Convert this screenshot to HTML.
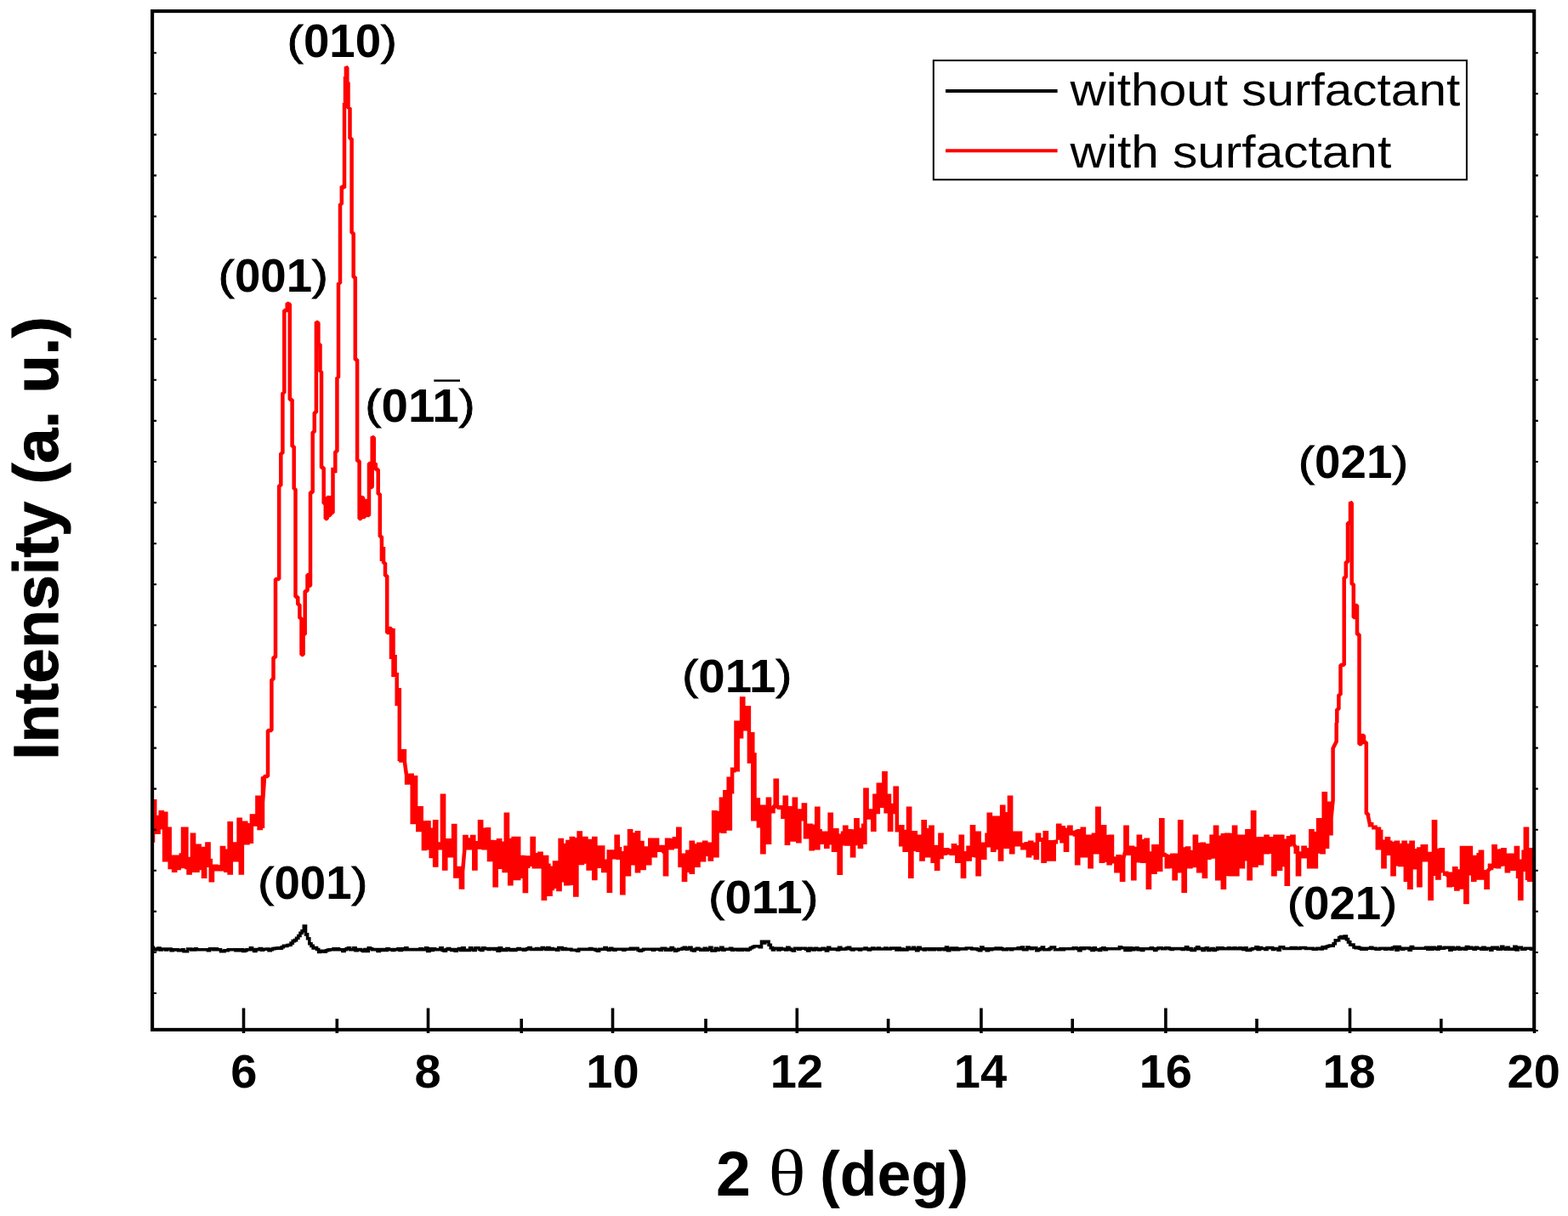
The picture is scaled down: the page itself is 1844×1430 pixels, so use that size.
<!DOCTYPE html>
<html lang="en">
<head>
<meta charset="utf-8">
<title>XRD patterns with and without surfactant</title>
<style>
html,body{margin:0;padding:0;background:#fff;}
body{width:1844px;height:1430px;overflow:hidden;}
svg{display:block;filter:blur(0.55px);}
text{fill:#000;}
</style>
</head>
<body>
<svg width="1844" height="1430" viewBox="0 0 1844 1430">
<rect width="1844" height="1430" fill="#fff"/>
<path d="M180.2 1112.8 L181.5 1116.9 L183.7 1116.9 L183.7 1116 L185.9 1116 L185.9 1115.1 L188 1115.1 L188 1116.9 L190.2 1116.9 L190.2 1116 L192.4 1116 L192.4 1116 L194.5 1116 L194.5 1116.9 L196.7 1116.9 L196.7 1116 L198.9 1116 L198.9 1116 L201.1 1116 L201.1 1117.8 L203.2 1117.8 L203.2 1116.9 L205.4 1116.9 L205.4 1116.9 L207.6 1116.9 L207.6 1116.9 L209.7 1116.9 L209.7 1117.8 L211.9 1117.8 L211.9 1117.8 L214.1 1117.8 L214.1 1116.9 L216.2 1116.9 L216.2 1118.7 L218.4 1118.7 L218.4 1118.7 L220.6 1118.7 L220.6 1116 L222.8 1116 L222.8 1116 L224.9 1116 L224.9 1116.9 L227.1 1116.9 L227.1 1116.9 L229.3 1116.9 L229.3 1115.9 L231.4 1115.9 L231.4 1116.8 L233.6 1116.8 L233.6 1116.8 L235.8 1116.8 L235.8 1116.8 L237.9 1116.8 L237.9 1116.8 L240.1 1116.8 L240.1 1116.8 L242.3 1116.8 L242.3 1116.8 L244.5 1116.8 L244.5 1117.7 L246.6 1117.7 L246.6 1115.9 L248.8 1115.9 L248.8 1115.9 L251 1115.9 L251 1116.8 L253.1 1116.8 L253.1 1115.9 L255.3 1115.9 L255.3 1116.8 L257.5 1116.8 L257.5 1116.8 L259.6 1116.8 L259.6 1118.6 L261.8 1118.6 L261.8 1118.6 L264 1118.6 L264 1117.7 L266.2 1117.7 L266.2 1117.7 L268.3 1117.7 L268.3 1116.8 L270.5 1116.8 L270.5 1116.8 L272.7 1116.8 L272.7 1116.8 L274.8 1116.8 L274.8 1116.8 L277 1116.8 L277 1117.7 L279.2 1117.7 L279.2 1116.8 L281.3 1116.8 L281.3 1117.7 L283.5 1117.7 L283.5 1116.7 L285.7 1116.7 L285.7 1118.5 L287.9 1118.5 L287.9 1117.6 L290 1117.6 L290 1116.7 L292.2 1116.7 L292.2 1116.7 L294.4 1116.7 L294.4 1114.9 L296.5 1114.9 L296.5 1116.6 L298.7 1116.6 L298.7 1118.4 L300.9 1118.4 L300.9 1116.6 L303 1116.6 L303 1116.5 L305.2 1116.5 L305.2 1115.6 L307.4 1115.6 L307.4 1117.3 L309.6 1117.3 L309.6 1116.3 L311.7 1116.3 L311.7 1116.2 L313.9 1116.2 L313.9 1116.1 L316.1 1116.1 L316.1 1117.8 L318.2 1117.8 L318.2 1116.7 L320.4 1116.7 L320.4 1115.6 L322.6 1115.6 L322.6 1115.4 L324.8 1115.4 L324.8 1115.1 L326.9 1115.1 L326.9 1114.7 L329.1 1114.7 L329.1 1115.2 L331.3 1115.2 L331.3 1113.8 L333.4 1113.8 L333.4 1112.3 L335.6 1112.3 L335.6 1112.4 L337.8 1112.4 L337.8 1111.5 L339.9 1111.5 L339.9 1111.3 L342.1 1111.3 L342.1 1109.1 L344.3 1109.1 L344.3 1106.6 L346.5 1106.6 L346.5 1105.6 L348.6 1105.6 L348.6 1103.3 L350.8 1103.3 L350.8 1100.5 L353 1100.5 L353 1097.2 L355.1 1097.2 L355.1 1094.9 L357.3 1094.9 L357.3 1089.1 L359.5 1089.1 L359.5 1098.9 L361.6 1098.9 L361.6 1103.8 L363.8 1103.8 L363.8 1109.8 L366 1109.8 L366 1112.4 L368.2 1112.4 L368.2 1115 L370.3 1115 L370.3 1114.5 L372.5 1114.5 L372.5 1116.5 L374.7 1116.5 L374.7 1119.4 L376.8 1119.4 L376.8 1118.4 L379 1118.4 L379 1118.6 L381.2 1118.6 L381.2 1119.2 L383.3 1119.2 L383.3 1117.7 L385.5 1117.7 L385.5 1117.1 L387.7 1117.1 L387.7 1116.8 L389.9 1116.8 L389.9 1116.7 L392 1116.7 L392 1115.8 L394.2 1115.8 L394.2 1116.7 L396.4 1116.7 L396.4 1115.8 L398.5 1115.8 L398.5 1116.7 L400.7 1116.7 L400.7 1116.7 L402.9 1116.7 L402.9 1118.5 L405 1118.5 L405 1116.7 L407.2 1116.7 L407.2 1115.8 L409.4 1115.8 L409.4 1114.9 L411.6 1114.9 L411.6 1116.7 L413.7 1116.7 L413.7 1116.7 L415.9 1116.7 L415.9 1114.9 L418.1 1114.9 L418.1 1117.6 L420.2 1117.6 L420.2 1116.6 L422.4 1116.6 L422.4 1116.6 L424.6 1116.6 L424.6 1117.5 L426.7 1117.5 L426.7 1118.4 L428.9 1118.4 L428.9 1116.6 L431.1 1116.6 L431.1 1118.4 L433.3 1118.4 L433.3 1114.8 L435.4 1114.8 L435.4 1115.7 L437.6 1115.7 L437.6 1116.6 L439.8 1116.6 L439.8 1116.6 L441.9 1116.6 L441.9 1116.6 L444.1 1116.6 L444.1 1118.4 L446.3 1118.4 L446.3 1116.6 L448.4 1116.6 L448.4 1117.5 L450.6 1117.5 L450.6 1116.6 L452.8 1116.6 L452.8 1117.5 L455 1117.5 L455 1115.7 L457.1 1115.7 L457.1 1116.6 L459.3 1116.6 L459.3 1116.6 L461.5 1116.6 L461.5 1117.5 L463.6 1117.5 L463.6 1116.6 L465.8 1116.6 L465.8 1116.6 L468 1116.6 L468 1115.7 L470.1 1115.7 L470.1 1117.5 L472.3 1117.5 L472.3 1115.7 L474.5 1115.7 L474.5 1116.6 L476.7 1116.6 L476.7 1114.8 L478.8 1114.8 L478.8 1116.6 L481 1116.6 L481 1116.6 L483.2 1116.6 L483.2 1116.6 L485.3 1116.6 L485.3 1116.6 L487.5 1116.6 L487.5 1116.6 L489.7 1116.6 L489.7 1116.6 L491.8 1116.6 L491.8 1116.6 L494 1116.6 L494 1115.7 L496.2 1115.7 L496.2 1116.6 L498.4 1116.6 L498.4 1116.6 L500.5 1116.6 L500.5 1114.8 L502.7 1114.8 L502.7 1118.4 L504.9 1118.4 L504.9 1115.7 L507 1115.7 L507 1117.5 L509.2 1117.5 L509.2 1115.7 L511.4 1115.7 L511.4 1116.6 L513.5 1116.6 L513.5 1116.6 L515.7 1116.6 L515.7 1116.5 L517.9 1116.5 L517.9 1114.7 L520.1 1114.7 L520.1 1117.4 L522.2 1117.4 L522.2 1118.3 L524.4 1118.3 L524.4 1116.5 L526.6 1116.5 L526.6 1115.6 L528.7 1115.6 L528.7 1116.5 L530.9 1116.5 L530.9 1117.4 L533.1 1117.4 L533.1 1116.5 L535.2 1116.5 L535.2 1118.3 L537.4 1118.3 L537.4 1116.5 L539.6 1116.5 L539.6 1115.6 L541.8 1115.6 L541.8 1117.4 L543.9 1117.4 L543.9 1114.7 L546.1 1114.7 L546.1 1117.4 L548.3 1117.4 L548.3 1117.4 L550.4 1117.4 L550.4 1117.4 L552.6 1117.4 L552.6 1114.7 L554.8 1114.7 L554.8 1116.5 L556.9 1116.5 L556.9 1117.4 L559.1 1117.4 L559.1 1114.7 L561.3 1114.7 L561.3 1114.7 L563.5 1114.7 L563.5 1116.5 L565.6 1116.5 L565.6 1117.4 L567.8 1117.4 L567.8 1114.7 L570 1114.7 L570 1115.6 L572.1 1115.6 L572.1 1115.6 L574.3 1115.6 L574.3 1116.5 L576.5 1116.5 L576.5 1115.6 L578.6 1115.6 L578.6 1115.6 L580.8 1115.6 L580.8 1116.5 L583 1116.5 L583 1115.6 L585.2 1115.6 L585.2 1118.3 L587.3 1118.3 L587.3 1114.7 L589.5 1114.7 L589.5 1117.4 L591.7 1117.4 L591.7 1116.5 L593.8 1116.5 L593.8 1117.4 L596 1117.4 L596 1115.6 L598.2 1115.6 L598.2 1116.5 L600.3 1116.5 L600.3 1117.4 L602.5 1117.4 L602.5 1116.5 L604.7 1116.5 L604.7 1117.4 L606.8 1117.4 L606.8 1116.5 L609 1116.5 L609 1115.6 L611.2 1115.6 L611.2 1116.4 L613.4 1116.4 L613.4 1116.4 L615.5 1116.4 L615.5 1117.3 L617.7 1117.3 L617.7 1116.4 L619.9 1116.4 L619.9 1115.5 L622 1115.5 L622 1114.6 L624.2 1114.6 L624.2 1116.4 L626.4 1116.4 L626.4 1116.4 L628.5 1116.4 L628.5 1116.4 L630.7 1116.4 L630.7 1115.5 L632.9 1115.5 L632.9 1116.4 L635.1 1116.4 L635.1 1116.4 L637.2 1116.4 L637.2 1114.6 L639.4 1114.6 L639.4 1115.5 L641.6 1115.5 L641.6 1116.4 L643.7 1116.4 L643.7 1114.6 L645.9 1114.6 L645.9 1116.4 L648.1 1116.4 L648.1 1115.5 L650.2 1115.5 L650.2 1116.4 L652.4 1116.4 L652.4 1116.4 L654.6 1116.4 L654.6 1117.3 L656.8 1117.3 L656.8 1114.6 L658.9 1114.6 L658.9 1114.6 L661.1 1114.6 L661.1 1116.4 L663.3 1116.4 L663.3 1115.5 L665.4 1115.5 L665.4 1116.4 L667.6 1116.4 L667.6 1116.4 L669.8 1116.4 L669.8 1116.4 L671.9 1116.4 L671.9 1117.3 L674.1 1117.3 L674.1 1117.3 L676.3 1117.3 L676.3 1117.3 L678.5 1117.3 L678.5 1118.2 L680.6 1118.2 L680.6 1116.4 L682.8 1116.4 L682.8 1116.4 L685 1116.4 L685 1116.4 L687.1 1116.4 L687.1 1116.4 L689.3 1116.4 L689.3 1116.4 L691.5 1116.4 L691.5 1116.4 L693.6 1116.4 L693.6 1115.5 L695.8 1115.5 L695.8 1116.4 L698 1116.4 L698 1116.4 L700.2 1116.4 L700.2 1117.3 L702.3 1117.3 L702.3 1118.2 L704.5 1118.2 L704.5 1116.4 L706.7 1116.4 L706.7 1116.3 L708.8 1116.3 L708.8 1116.3 L711 1116.3 L711 1114.5 L713.2 1114.5 L713.2 1116.3 L715.3 1116.3 L715.3 1117.2 L717.5 1117.2 L717.5 1115.4 L719.7 1115.4 L719.7 1116.3 L721.9 1116.3 L721.9 1117.2 L724 1117.2 L724 1116.3 L726.2 1116.3 L726.2 1116.3 L728.4 1116.3 L728.4 1116.3 L730.5 1116.3 L730.5 1116.3 L732.7 1116.3 L732.7 1117.2 L734.9 1117.2 L734.9 1116.3 L737 1116.3 L737 1116.3 L739.2 1116.3 L739.2 1116.3 L741.4 1116.3 L741.4 1115.4 L743.6 1115.4 L743.6 1116.3 L745.7 1116.3 L745.7 1115.4 L747.9 1115.4 L747.9 1115.4 L750.1 1115.4 L750.1 1117.2 L752.2 1117.2 L752.2 1118.1 L754.4 1118.1 L754.4 1117.2 L756.6 1117.2 L756.6 1116.3 L758.7 1116.3 L758.7 1116.3 L760.9 1116.3 L760.9 1116.3 L763.1 1116.3 L763.1 1116.3 L765.3 1116.3 L765.3 1116.3 L767.4 1116.3 L767.4 1117.2 L769.6 1117.2 L769.6 1116.3 L771.8 1116.3 L771.8 1116.3 L773.9 1116.3 L773.9 1116.3 L776.1 1116.3 L776.1 1117.2 L778.3 1117.2 L778.3 1115.4 L780.4 1115.4 L780.4 1115.4 L782.6 1115.4 L782.6 1117.2 L784.8 1117.2 L784.8 1116.3 L787 1116.3 L787 1117.2 L789.1 1117.2 L789.1 1114.5 L791.3 1114.5 L791.3 1116.3 L793.5 1116.3 L793.5 1118.1 L795.6 1118.1 L795.6 1117.2 L797.8 1117.2 L797.8 1116.3 L800 1116.3 L800 1116.3 L802.1 1116.3 L802.1 1115.3 L804.3 1115.3 L804.3 1114.4 L806.5 1114.4 L806.5 1116.2 L808.7 1116.2 L808.7 1115.3 L810.8 1115.3 L810.8 1114.4 L813 1114.4 L813 1117.1 L815.2 1117.1 L815.2 1118 L817.3 1118 L817.3 1116.2 L819.5 1116.2 L819.5 1115.3 L821.7 1115.3 L821.7 1116.2 L823.8 1116.2 L823.8 1117.1 L826 1117.1 L826 1117.1 L828.2 1117.1 L828.2 1115.3 L830.4 1115.3 L830.4 1117.1 L832.5 1117.1 L832.5 1116.2 L834.7 1116.2 L834.7 1114.4 L836.9 1114.4 L836.9 1118 L839 1118 L839 1118 L841.2 1118 L841.2 1115.3 L843.4 1115.3 L843.4 1117.1 L845.5 1117.1 L845.5 1116.2 L847.7 1116.2 L847.7 1114.4 L849.9 1114.4 L849.9 1117.1 L852.1 1117.1 L852.1 1116.2 L854.2 1116.2 L854.2 1116.2 L856.4 1116.2 L856.4 1116.2 L858.6 1116.2 L858.6 1115.3 L860.7 1115.3 L860.7 1117.1 L862.9 1117.1 L862.9 1116.2 L865.1 1116.2 L865.1 1116.2 L867.2 1116.2 L867.2 1117.1 L869.4 1117.1 L869.4 1116.2 L871.6 1116.2 L871.6 1117.1 L873.8 1117.1 L873.8 1116.2 L875.9 1116.2 L875.9 1116.2 L878.1 1116.2 L878.1 1117.1 L880.3 1117.1 L880.3 1116.2 L882.4 1116.2 L882.4 1114.7 L884.6 1114.7 L884.6 1113.8 L886.8 1113.8 L886.8 1112.8 L888.9 1112.8 L888.9 1112.8 L891.1 1112.8 L891.1 1112.8 L893.3 1112.8 L893.3 1113.7 L895.5 1113.7 L895.5 1107.3 L897.6 1107.3 L897.6 1109 L899.8 1109 L899.8 1107.2 L902 1107.2 L902 1107.2 L904.1 1107.2 L904.1 1111.2 L906.3 1111.2 L906.3 1114.6 L908.5 1114.6 L908.5 1117 L910.6 1117 L910.6 1115.2 L912.8 1115.2 L912.8 1115.2 L915 1115.2 L915 1117 L917.2 1117 L917.2 1115.2 L919.3 1115.2 L919.3 1116.1 L921.5 1116.1 L921.5 1116.1 L923.7 1116.1 L923.7 1117 L925.8 1117 L925.8 1114.3 L928 1114.3 L928 1116.1 L930.2 1116.1 L930.2 1117 L932.3 1117 L932.3 1117.9 L934.5 1117.9 L934.5 1115.2 L936.7 1115.2 L936.7 1115.2 L938.9 1115.2 L938.9 1116.1 L941 1116.1 L941 1115.2 L943.2 1115.2 L943.2 1115.2 L945.4 1115.2 L945.4 1115.2 L947.5 1115.2 L947.5 1116.1 L949.7 1116.1 L949.7 1117.9 L951.9 1117.9 L951.9 1115.2 L954 1115.2 L954 1116.1 L956.2 1116.1 L956.2 1117 L958.4 1117 L958.4 1115.2 L960.6 1115.2 L960.6 1116.1 L962.7 1116.1 L962.7 1117 L964.9 1117 L964.9 1116.1 L967.1 1116.1 L967.1 1115.2 L969.2 1115.2 L969.2 1116.1 L971.4 1116.1 L971.4 1117.9 L973.6 1117.9 L973.6 1114.3 L975.7 1114.3 L975.7 1116.1 L977.9 1116.1 L977.9 1116.1 L980.1 1116.1 L980.1 1116.1 L982.3 1116.1 L982.3 1116.1 L984.4 1116.1 L984.4 1117 L986.6 1117 L986.6 1114.3 L988.8 1114.3 L988.8 1116.1 L990.9 1116.1 L990.9 1116.1 L993.1 1116.1 L993.1 1116 L995.3 1116 L995.3 1115.1 L997.4 1115.1 L997.4 1114.2 L999.6 1114.2 L999.6 1116 L1001.8 1116 L1001.8 1116.9 L1004 1116.9 L1004 1116 L1006.1 1116 L1006.1 1116 L1008.3 1116 L1008.3 1116 L1010.5 1116 L1010.5 1116.9 L1012.6 1116.9 L1012.6 1116 L1014.8 1116 L1014.8 1116 L1017 1116 L1017 1115.1 L1019.1 1115.1 L1019.1 1116 L1021.3 1116 L1021.3 1116.9 L1023.5 1116.9 L1023.5 1116 L1025.7 1116 L1025.7 1115.1 L1027.8 1115.1 L1027.8 1116 L1030 1116 L1030 1116 L1032.2 1116 L1032.2 1115.1 L1034.3 1115.1 L1034.3 1116 L1036.5 1116 L1036.5 1116 L1038.7 1116 L1038.7 1116 L1040.8 1116 L1040.8 1115.1 L1043 1115.1 L1043 1116 L1045.2 1116 L1045.2 1116 L1047.4 1116 L1047.4 1115.1 L1049.5 1115.1 L1049.5 1115.1 L1051.7 1115.1 L1051.7 1115.1 L1053.9 1115.1 L1053.9 1116.9 L1056 1116.9 L1056 1115.1 L1058.2 1115.1 L1058.2 1116.9 L1060.4 1116.9 L1060.4 1116 L1062.5 1116 L1062.5 1116.9 L1064.7 1116.9 L1064.7 1116.9 L1066.9 1116.9 L1066.9 1114.2 L1069.1 1114.2 L1069.1 1116 L1071.2 1116 L1071.2 1116 L1073.4 1116 L1073.4 1114.2 L1075.6 1114.2 L1075.6 1116 L1077.7 1116 L1077.7 1117.8 L1079.9 1117.8 L1079.9 1114.2 L1082.1 1114.2 L1082.1 1116 L1084.2 1116 L1084.2 1116 L1086.4 1116 L1086.4 1116.9 L1088.6 1116.9 L1088.6 1115.9 L1090.8 1115.9 L1090.8 1115.9 L1092.9 1115.9 L1092.9 1116.8 L1095.1 1116.8 L1095.1 1115.9 L1097.3 1115.9 L1097.3 1116.8 L1099.4 1116.8 L1099.4 1115.9 L1101.6 1115.9 L1101.6 1115.9 L1103.8 1115.9 L1103.8 1116.8 L1105.9 1116.8 L1105.9 1115.9 L1108.1 1115.9 L1108.1 1115.9 L1110.3 1115.9 L1110.3 1116.8 L1112.5 1116.8 L1112.5 1114.1 L1114.6 1114.1 L1114.6 1117.7 L1116.8 1117.7 L1116.8 1115.9 L1119 1115.9 L1119 1115 L1121.1 1115 L1121.1 1116.8 L1123.3 1116.8 L1123.3 1115 L1125.5 1115 L1125.5 1116.8 L1127.6 1116.8 L1127.6 1115.9 L1129.8 1115.9 L1129.8 1115.9 L1132 1115.9 L1132 1115.9 L1134.2 1115.9 L1134.2 1115.9 L1136.3 1115.9 L1136.3 1115 L1138.5 1115 L1138.5 1115 L1140.7 1115 L1140.7 1115 L1142.8 1115 L1142.8 1115.9 L1145 1115.9 L1145 1115.9 L1147.2 1115.9 L1147.2 1115.9 L1149.3 1115.9 L1149.3 1116.8 L1151.5 1116.8 L1151.5 1117.7 L1153.7 1117.7 L1153.7 1114.1 L1155.9 1114.1 L1155.9 1115.9 L1158 1115.9 L1158 1115.9 L1160.2 1115.9 L1160.2 1117.7 L1162.4 1117.7 L1162.4 1115.9 L1164.5 1115.9 L1164.5 1116.8 L1166.7 1116.8 L1166.7 1115.9 L1168.9 1115.9 L1168.9 1115.9 L1171 1115.9 L1171 1115 L1173.2 1115 L1173.2 1115.9 L1175.4 1115.9 L1175.4 1115 L1177.6 1115 L1177.6 1115.9 L1179.7 1115.9 L1179.7 1116.8 L1181.9 1116.8 L1181.9 1116.8 L1184.1 1116.8 L1184.1 1115.8 L1186.2 1115.8 L1186.2 1115.8 L1188.4 1115.8 L1188.4 1116.7 L1190.6 1116.7 L1190.6 1115.8 L1192.7 1115.8 L1192.7 1115.8 L1194.9 1115.8 L1194.9 1115.8 L1197.1 1115.8 L1197.1 1114.9 L1199.3 1114.9 L1199.3 1115.8 L1201.4 1115.8 L1201.4 1114 L1203.6 1114 L1203.6 1116.7 L1205.8 1116.7 L1205.8 1116.7 L1207.9 1116.7 L1207.9 1114 L1210.1 1114 L1210.1 1114.9 L1212.3 1114.9 L1212.3 1115.8 L1214.4 1115.8 L1214.4 1114.9 L1216.6 1114.9 L1216.6 1114.9 L1218.8 1114.9 L1218.8 1117.6 L1221 1117.6 L1221 1116.7 L1223.1 1116.7 L1223.1 1115.8 L1225.3 1115.8 L1225.3 1114 L1227.5 1114 L1227.5 1116.7 L1229.6 1116.7 L1229.6 1116.7 L1231.8 1116.7 L1231.8 1116.7 L1234 1116.7 L1234 1115.8 L1236.1 1115.8 L1236.1 1114 L1238.3 1114 L1238.3 1114 L1240.5 1114 L1240.5 1116.7 L1242.7 1116.7 L1242.7 1116.7 L1244.8 1116.7 L1244.8 1116.7 L1247 1116.7 L1247 1115.8 L1249.2 1115.8 L1249.2 1116.7 L1251.3 1116.7 L1251.3 1115.8 L1253.5 1115.8 L1253.5 1115.8 L1255.7 1115.8 L1255.7 1115.8 L1257.8 1115.8 L1257.8 1115.8 L1260 1115.8 L1260 1115.8 L1262.2 1115.8 L1262.2 1114.9 L1264.4 1114.9 L1264.4 1114.9 L1266.5 1114.9 L1266.5 1115.8 L1268.7 1115.8 L1268.7 1117.6 L1270.9 1117.6 L1270.9 1114.9 L1273 1114.9 L1273 1115.8 L1275.2 1115.8 L1275.2 1114.9 L1277.4 1114.9 L1277.4 1114.9 L1279.6 1114.9 L1279.6 1114.8 L1281.7 1114.8 L1281.7 1115.7 L1283.9 1115.7 L1283.9 1117.5 L1286.1 1117.5 L1286.1 1114.8 L1288.2 1114.8 L1288.2 1116.6 L1290.4 1116.6 L1290.4 1116.6 L1292.6 1116.6 L1292.6 1117.5 L1294.7 1117.5 L1294.7 1115.7 L1296.9 1115.7 L1296.9 1114.8 L1299.1 1114.8 L1299.1 1116.6 L1301.3 1116.6 L1301.3 1115.7 L1303.4 1115.7 L1303.4 1115.7 L1305.6 1115.7 L1305.6 1115.7 L1307.8 1115.7 L1307.8 1115.7 L1309.9 1115.7 L1309.9 1115.7 L1312.1 1115.7 L1312.1 1115.7 L1314.3 1115.7 L1314.3 1115.7 L1316.4 1115.7 L1316.4 1113.9 L1318.6 1113.9 L1318.6 1114.8 L1320.8 1114.8 L1320.8 1114.8 L1323 1114.8 L1323 1117.5 L1325.1 1117.5 L1325.1 1114.8 L1327.3 1114.8 L1327.3 1117.5 L1329.5 1117.5 L1329.5 1114.8 L1331.6 1114.8 L1331.6 1116.6 L1333.8 1116.6 L1333.8 1115.7 L1336 1115.7 L1336 1114.8 L1338.1 1114.8 L1338.1 1116.6 L1340.3 1116.6 L1340.3 1115.7 L1342.5 1115.7 L1342.5 1117.5 L1344.7 1117.5 L1344.7 1115.7 L1346.8 1115.7 L1346.8 1115.7 L1349 1115.7 L1349 1115.7 L1351.2 1115.7 L1351.2 1115.7 L1353.3 1115.7 L1353.3 1114.8 L1355.5 1114.8 L1355.5 1115.7 L1357.7 1115.7 L1357.7 1117.5 L1359.8 1117.5 L1359.8 1115.7 L1362 1115.7 L1362 1114.8 L1364.2 1114.8 L1364.2 1114.8 L1366.4 1114.8 L1366.4 1115.7 L1368.5 1115.7 L1368.5 1115.7 L1370.7 1115.7 L1370.7 1114.8 L1372.9 1114.8 L1372.9 1114.8 L1375 1114.8 L1375 1115.6 L1377.2 1115.6 L1377.2 1116.5 L1379.4 1116.5 L1379.4 1115.6 L1381.5 1115.6 L1381.5 1115.6 L1383.7 1115.6 L1383.7 1115.6 L1385.9 1115.6 L1385.9 1115.6 L1388.1 1115.6 L1388.1 1115.6 L1390.2 1115.6 L1390.2 1116.5 L1392.4 1116.5 L1392.4 1115.6 L1394.6 1115.6 L1394.6 1113.8 L1396.7 1113.8 L1396.7 1116.5 L1398.9 1116.5 L1398.9 1115.6 L1401.1 1115.6 L1401.1 1117.4 L1403.2 1117.4 L1403.2 1117.4 L1405.4 1117.4 L1405.4 1115.6 L1407.6 1115.6 L1407.6 1113.8 L1409.8 1113.8 L1409.8 1115.6 L1411.9 1115.6 L1411.9 1115.6 L1414.1 1115.6 L1414.1 1117.4 L1416.3 1117.4 L1416.3 1115.6 L1418.4 1115.6 L1418.4 1114.7 L1420.6 1114.7 L1420.6 1117.4 L1422.8 1117.4 L1422.8 1116.5 L1424.9 1116.5 L1424.9 1115.6 L1427.1 1115.6 L1427.1 1117.4 L1429.3 1117.4 L1429.3 1116.5 L1431.5 1116.5 L1431.5 1114.7 L1433.6 1114.7 L1433.6 1115.6 L1435.8 1115.6 L1435.8 1114.7 L1438 1114.7 L1438 1115.6 L1440.1 1115.6 L1440.1 1115.6 L1442.3 1115.6 L1442.3 1115.6 L1444.5 1115.6 L1444.5 1114.7 L1446.6 1114.7 L1446.6 1115.6 L1448.8 1115.6 L1448.8 1115.6 L1451 1115.6 L1451 1114.7 L1453.2 1114.7 L1453.2 1115.6 L1455.3 1115.6 L1455.3 1115.6 L1457.5 1115.6 L1457.5 1114.7 L1459.7 1114.7 L1459.7 1115.6 L1461.8 1115.6 L1461.8 1116.5 L1464 1116.5 L1464 1114.7 L1466.2 1114.7 L1466.2 1117.4 L1468.3 1117.4 L1468.3 1117.4 L1470.5 1117.4 L1470.5 1116.4 L1472.7 1116.4 L1472.7 1115.5 L1474.9 1115.5 L1474.9 1115.5 L1477 1115.5 L1477 1113.7 L1479.2 1113.7 L1479.2 1116.4 L1481.4 1116.4 L1481.4 1114.6 L1483.5 1114.6 L1483.5 1115.5 L1485.7 1115.5 L1485.7 1115.5 L1487.9 1115.5 L1487.9 1116.4 L1490 1116.4 L1490 1114.6 L1492.2 1114.6 L1492.2 1114.6 L1494.4 1114.6 L1494.4 1114.6 L1496.6 1114.6 L1496.6 1116.4 L1498.7 1116.4 L1498.7 1115.5 L1500.9 1115.5 L1500.9 1115.5 L1503.1 1115.5 L1503.1 1117.3 L1505.2 1117.3 L1505.2 1113.7 L1507.4 1113.7 L1507.4 1113.7 L1509.6 1113.7 L1509.6 1115.5 L1511.7 1115.5 L1511.7 1115.5 L1513.9 1115.5 L1513.9 1115.5 L1516.1 1115.5 L1516.1 1115.5 L1518.3 1115.5 L1518.3 1114.6 L1520.4 1114.6 L1520.4 1115.5 L1522.6 1115.5 L1522.6 1114.6 L1524.8 1114.6 L1524.8 1115.5 L1526.9 1115.5 L1526.9 1115.5 L1529.1 1115.5 L1529.1 1114.6 L1531.3 1114.6 L1531.3 1114.6 L1533.4 1114.6 L1533.4 1114.6 L1535.6 1114.6 L1535.6 1115.5 L1537.8 1115.5 L1537.8 1115.5 L1540 1115.5 L1540 1115.4 L1542.1 1115.4 L1542.1 1115.4 L1544.3 1115.4 L1544.3 1116.3 L1546.5 1116.3 L1546.5 1116.3 L1548.6 1116.3 L1548.6 1115.4 L1550.8 1115.4 L1550.8 1115.3 L1553 1115.3 L1553 1116 L1555.1 1116 L1555.1 1113.8 L1557.3 1113.8 L1557.3 1114.9 L1559.5 1114.9 L1559.5 1113.2 L1561.7 1113.2 L1561.7 1112.5 L1563.8 1112.5 L1563.8 1112 L1566 1112 L1566 1112.2 L1568.2 1112.2 L1568.2 1109.7 L1570.3 1109.7 L1570.3 1105.9 L1572.5 1105.9 L1572.5 1105.7 L1574.7 1105.7 L1574.7 1102.6 L1576.8 1102.6 L1576.8 1101.5 L1579 1101.5 L1579 1103.3 L1581.2 1103.3 L1581.2 1101 L1583.4 1101 L1583.4 1104.6 L1585.5 1104.6 L1585.5 1107.9 L1587.7 1107.9 L1587.7 1111 L1589.9 1111 L1589.9 1111.1 L1592 1111.1 L1592 1114 L1594.2 1114 L1594.2 1114.6 L1596.4 1114.6 L1596.4 1114 L1598.5 1114 L1598.5 1115.1 L1600.7 1115.1 L1600.7 1116.1 L1602.9 1116.1 L1602.9 1115.2 L1605.1 1115.2 L1605.1 1116.2 L1607.2 1116.2 L1607.2 1115.3 L1609.4 1115.3 L1609.4 1115.3 L1611.6 1115.3 L1611.6 1114.4 L1613.7 1114.4 L1613.7 1115.4 L1615.9 1115.4 L1615.9 1115.4 L1618.1 1115.4 L1618.1 1116.3 L1620.2 1116.3 L1620.2 1116.3 L1622.4 1116.3 L1622.4 1115.4 L1624.6 1115.4 L1624.6 1115.4 L1626.8 1115.4 L1626.8 1115.4 L1628.9 1115.4 L1628.9 1116.3 L1631.1 1116.3 L1631.1 1115.4 L1633.3 1115.4 L1633.3 1115.4 L1635.4 1115.4 L1635.4 1116.3 L1637.6 1116.3 L1637.6 1114.5 L1639.8 1114.5 L1639.8 1113.6 L1641.9 1113.6 L1641.9 1117.2 L1644.1 1117.2 L1644.1 1113.6 L1646.3 1113.6 L1646.3 1115.4 L1648.5 1115.4 L1648.5 1116.3 L1650.6 1116.3 L1650.6 1115.4 L1652.8 1115.4 L1652.8 1115.4 L1655 1115.4 L1655 1115.4 L1657.1 1115.4 L1657.1 1117.2 L1659.3 1117.2 L1659.3 1113.5 L1661.5 1113.5 L1661.5 1115.3 L1663.6 1115.3 L1663.6 1115.3 L1665.8 1115.3 L1665.8 1115.3 L1668 1115.3 L1668 1115.3 L1670.2 1115.3 L1670.2 1115.3 L1672.3 1115.3 L1672.3 1115.3 L1674.5 1115.3 L1674.5 1115.3 L1676.7 1115.3 L1676.7 1114.4 L1678.8 1114.4 L1678.8 1116.2 L1681 1116.2 L1681 1114.4 L1683.2 1114.4 L1683.2 1116.2 L1685.3 1116.2 L1685.3 1114.4 L1687.5 1114.4 L1687.5 1115.3 L1689.7 1115.3 L1689.7 1116.2 L1691.9 1116.2 L1691.9 1113.5 L1694 1113.5 L1694 1115.3 L1696.2 1115.3 L1696.2 1115.3 L1698.4 1115.3 L1698.4 1114.4 L1700.5 1114.4 L1700.5 1114.4 L1702.7 1114.4 L1702.7 1114.4 L1704.9 1114.4 L1704.9 1117.1 L1707 1117.1 L1707 1114.4 L1709.2 1114.4 L1709.2 1116.2 L1711.4 1116.2 L1711.4 1115.3 L1713.6 1115.3 L1713.6 1114.4 L1715.7 1114.4 L1715.7 1116.2 L1717.9 1116.2 L1717.9 1115.3 L1720.1 1115.3 L1720.1 1115.3 L1722.2 1115.3 L1722.2 1116.2 L1724.4 1116.2 L1724.4 1113.5 L1726.6 1113.5 L1726.6 1115.3 L1728.7 1115.3 L1728.7 1114.4 L1730.9 1114.4 L1730.9 1115.3 L1733.1 1115.3 L1733.1 1116.2 L1735.3 1116.2 L1735.3 1114.4 L1737.4 1114.4 L1737.4 1115.3 L1739.6 1115.3 L1739.6 1115.3 L1741.8 1115.3 L1741.8 1116.2 L1743.9 1116.2 L1743.9 1114.4 L1746.1 1114.4 L1746.1 1116.2 L1748.3 1116.2 L1748.3 1115.3 L1750.4 1115.3 L1750.4 1115.3 L1752.6 1115.3 L1752.6 1117.1 L1754.8 1117.1 L1754.8 1114.4 L1757 1114.4 L1757 1115.2 L1759.1 1115.2 L1759.1 1114.3 L1761.3 1114.3 L1761.3 1116.1 L1763.5 1116.1 L1763.5 1116.1 L1765.6 1116.1 L1765.6 1113.4 L1767.8 1113.4 L1767.8 1115.2 L1770 1115.2 L1770 1116.1 L1772.1 1116.1 L1772.1 1114.3 L1774.3 1114.3 L1774.3 1116.1 L1776.5 1116.1 L1776.5 1116.1 L1778.7 1116.1 L1778.7 1116.1 L1780.8 1116.1 L1780.8 1113.4 L1783 1113.4 L1783 1117 L1785.2 1117 L1785.2 1114.3 L1787.3 1114.3 L1787.3 1114.3 L1789.5 1114.3 L1789.5 1116.1 L1791.7 1116.1 L1791.7 1116.1 L1793.8 1116.1 L1793.8 1115.2 L1796 1115.2 L1796 1115.2 L1798.2 1115.2 L1798.2 1115.2 L1800.4 1115.2 L1800.4 1116.1 L1802.5 1116.1 L1802.5 1117" fill="none" stroke="#000" stroke-width="3.6" stroke-linejoin="miter"/>
<path d="M180 965.3 L180 939.9 L180 990.8 L180 958 L182.2 958 L182.2 939.9 L182.2 976.2 L182.2 967.6 L184.4 967.6 L184.4 959.1 L184.4 981 L184.4 970.1 L186.6 970.1 L186.6 981 L186.6 958.7 L186.6 966.1 L188.7 966.1 L188.7 973.4 L188.7 952.9 L188.7 963.2 L190.9 963.2 L190.9 952.9 L190.9 975.6 L190.9 965.1 L193.1 965.1 L193.1 954.5 L193.1 1013.6 L193.1 984.1 L195.3 984.1 L195.3 1013.6 L195.3 954.5 L195.3 990.6 L197.5 990.6 L197.5 1008.7 L197.5 972.4 L197.5 990.6 L199.7 990.6 L199.7 972.4 L199.7 1022.3 L199.7 1013.9 L201.9 1013.9 L201.9 1022.3 L201.9 1005.5 L201.9 1014.2 L204.1 1014.2 L204.1 1006.2 L204.1 1026.1 L204.1 1016.1 L206.2 1016.1 L206.2 1026.1 L206.2 1005.5 L206.2 1014.4 L208.4 1014.4 L208.4 1005.5 L208.4 1023.3 L208.4 1016.1 L210.6 1016.1 L210.6 1023.3 L210.6 1008.9 L210.6 1013.8 L212.8 1013.8 L212.8 1018.8 L212.8 1003.3 L212.8 1011 L215 1011 L215 1021.3 L215 972.4 L215 994.7 L217.2 994.7 L217.2 1016.9 L217.2 972.4 L217.2 994.7 L219.4 994.7 L219.4 972.4 L219.4 1022.3 L219.4 1016.6 L221.5 1016.6 L221.5 1011 L221.5 1028.8 L221.5 1019.9 L223.7 1019.9 L223.7 1028.8 L223.7 1007.7 L223.7 1016.9 L225.9 1016.9 L225.9 1026.1 L225.9 979.5 L225.9 999.4 L228.1 999.4 L228.1 979.5 L228.1 1019.3 L228.1 1006.9 L230.3 1006.9 L230.3 994.5 L230.3 1026.1 L230.3 1010.3 L232.5 1010.3 L232.5 1026.1 L232.5 992.5 L232.5 1007.9 L234.7 1007.9 L234.7 1023.3 L234.7 992.5 L234.7 1009.5 L236.8 1009.5 L236.8 995.7 L236.8 1023.3 L236.8 1009.5 L239 1009.5 L239 995.7 L239 1033.1 L239 1015.9 L241.2 1015.9 L241.2 998.6 L241.2 1033.1 L241.2 1007.9 L243.4 1007.9 L243.4 1017.2 L243.4 990.3 L243.4 1003.8 L245.6 1003.8 L245.6 990.3 L245.6 1020.1 L245.6 1015 L247.8 1015 L247.8 1009.8 L247.8 1037.4 L247.8 1028.8 L250 1028.8 L250 1020.2 L250 1037.4 L250 1021.9 L252.2 1021.9 L252.2 1023.6 L252.2 1016.4 L252.2 1020 L254.3 1020 L254.3 1016.4 L254.3 1024.4 L254.3 1020.7 L256.5 1020.7 L256.5 1016.9 L256.5 1024.4 L256.5 1020.8 L258.7 1020.8 L258.7 1017.1 L258.7 1024.4 L258.7 1020.7 L260.9 1020.7 L260.9 1024.4 L260.9 994.7 L260.9 1007.2 L263.1 1007.2 L263.1 1019.8 L263.1 994.7 L263.1 1011.3 L265.3 1011.3 L265.3 1002.8 L265.3 1026.1 L265.3 1014.4 L267.5 1014.4 L267.5 1026.1 L267.5 998.5 L267.5 1012.3 L269.6 1012.3 L269.6 1028.8 L269.6 965.9 L269.6 997.3 L271.8 997.3 L271.8 965.9 L271.8 1028.8 L271.8 1001.2 L274 1001.2 L274 990.3 L274 1012.1 L274 1001.2 L276.2 1001.2 L276.2 990.3 L276.2 1013.6 L276.2 1002.2 L278.4 1002.2 L278.4 990.8 L278.4 1013.6 L278.4 999.7 L280.6 999.7 L280.6 1008.7 L280.6 961.6 L280.6 985.1 L282.8 985.1 L282.8 961.6 L282.8 1028.8 L282.8 1005.2 L284.9 1005.2 L284.9 981.6 L284.9 1028.8 L284.9 985 L287.1 985 L287.1 988.5 L287.1 965.4 L287.1 976.9 L289.3 976.9 L289.3 965.4 L289.3 993.5 L289.3 980.8 L291.5 980.8 L291.5 968.1 L291.5 993.5 L291.5 980 L293.7 980 L293.7 991.9 L293.7 968.1 L293.7 980 L295.9 980 L295.9 991.9 L295.9 957.2 L295.9 963.8 L298.1 963.8 L298.1 957.2 L298.1 970.3 L298.1 965.3 L300.3 965.3 L300.3 960.4 L300.3 971.8 L300.3 966.1 L302.4 966.1 L302.4 971.8 L302.4 935.5 L302.4 953.7 L304.6 953.7 L304.6 935.5 L304.6 976.2 L304.6 956.9 L306.8 956.9 L306.8 937.7 L306.8 976.2 L306.8 955.9 L309 955.9 L309 974 L309 913.3 L309 943.7 L310.8 918 L310.8 913 L315 913 L315 859 L319.4 859 L319.4 799 L321.5 799 L321.5 773 L324 773 L324 681 L328.2 681 L328.2 571 L330.3 571 L330.3 533 L332.4 533 L332.4 462 L334.3 462 L334.3 365 L337.7 365 L337.7 356.5 L340.8 358 L340.8 470 L343.6 470 L343.6 525 L345.7 525 L345.7 575 L347.5 575 L347.5 702 L350.3 702 L350.3 711 L352.4 711 L352.4 727 L354.5 727 L354.5 770 L356.6 770 L356.6 746 L358.7 746 L358.7 695 L361.5 695 L361.5 676 L363.5 676 L363.5 689 L365 689 L365 579 L367.7 579 L367.7 508 L369.8 508 L369.8 485 L371.9 485 L371.9 378.5 L374.4 380 L374.4 405 L376.5 405 L376.5 437 L378 437 L378 550 L380.7 550 L380.7 592 L382.8 592 L382.8 610 L384.8 610 L384.8 585 L386.9 585 L386.9 606 L388.5 606 L388.5 585 L390 585 L390 603 L391.5 603 L391.5 550 L394.3 556 L394.3 531 L396.4 531 L396.4 444 L398 444 L398 333 L400 333 L400 240 L401.8 240 L401.8 219 L405 221 L405 121 L406 121 L406 90 L406.9 90 L406.9 78.5 L408.3 80 L408.3 97 L409.5 97 L409.5 127 L411.5 127 L411.5 163 L413.6 163 L413.6 274 L415.7 274 L415.7 326 L417.8 326 L417.8 423 L420.1 423 L420.1 542 L422.6 542 L422.6 610 L424.5 610 L424.5 585 L427 585 L427 608 L429 608 L429 589 L432 589 L432 606 L434 606 L434 545 L436 545 L436 573 L437.7 573 L437.7 513.5 L439.8 515 L439.8 545 L441.8 545 L441.8 552 L444.7 552 L444.7 581 L446.8 581 L446.8 631 L448.9 631 L448.9 660 L451 643 L451 662 L453 662 L453 677 L455.2 677 L455.2 744 L458 744 L458 739 L460 739 L460 775 L462.5 739 L462.5 796 L464.6 770 L464.6 796 L466.7 791 L466.7 830 L468.2 812 L468.2 828 L469.8 809 L469.8 895 L471.5 888.9 L471.5 881 L471.5 896.7 L471.5 888.9 L473.7 888.9 L473.7 881 L473.7 896.7 L473.7 888.6 L475.9 888.6 L475.9 881 L475.9 896.1 L478.1 912.1 L478.1 922.8 L478.1 917.5 L480.3 917.5 L480.3 922.8 L480.3 910.8 L480.3 915.4 L482.5 915.4 L482.5 919.9 L482.5 909.6 L482.5 914.7 L484.7 914.7 L484.7 909.6 L484.7 969.2 L484.7 940.6 L486.9 940.6 L486.9 912 L486.9 969.2 L486.9 940.2 L489.1 940.2 L489.1 912 L489.1 968.3 L489.1 959.5 L491.3 959.5 L491.3 950.7 L491.3 978.2 L491.3 964.5 L493.5 964.5 L493.5 978.2 L493.5 947.9 L493.5 960.2 L495.7 960.2 L495.7 947.9 L495.7 972.5 L495.7 968.8 L497.9 968.8 L497.9 965.2 L497.9 1000.2 L497.9 986.9 L500.1 986.9 L500.1 1000.2 L500.1 973.6 L500.1 986.6 L502.3 986.6 L502.3 999.5 L502.3 965 L502.3 979.4 L504.5 979.4 L504.5 965 L504.5 993.8 L504.5 985.1 L506.7 985.1 L506.7 976.3 L506.7 1009.2 L506.7 992.8 L508.9 992.8 L508.9 1009.2 L508.9 973.6 L508.9 991.4 L511.1 991.4 L511.1 964.1 L511.1 1019.8 L511.1 992 L513.3 992 L513.3 1019.8 L513.3 964.1 L513.3 994.6 L515.5 994.6 L515.5 990.2 L515.5 998.9 L515.5 994.6 L517.7 994.6 L517.7 990.2 L517.7 999.4 L517.7 994.8 L519.9 994.8 L519.9 999.4 L519.9 933.5 L519.9 966.5 L522.1 966.5 L522.1 933.5 L522.1 1023.8 L522.1 1005.2 L524.3 1005.2 L524.3 1023.8 L524.3 986.5 L524.3 996.3 L526.5 996.3 L526.5 1006.2 L526.5 986.1 L526.5 996.2 L528.7 996.2 L528.7 986.1 L528.7 1008.4 L528.7 999.9 L530.9 999.9 L530.9 1008.4 L530.9 991.4 L530.9 999 L533.1 999 L533.1 1006.7 L533.1 968.7 L533.1 987.7 L535.3 987.7 L535.3 968.7 L535.3 1032.8 L535.3 1027.4 L537.5 1027.4 L537.5 1022 L537.5 1032.8 L537.5 1027.3 L539.7 1027.3 L539.7 1032.6 L539.7 1018.7 L539.7 1025.7 L541.9 1025.7 L541.9 1018.7 L541.9 1045.8 L541.9 1035.4 L544.1 1035.4 L544.1 1025 L544.1 1045.8 L544.1 1025 L546.3 999.4 L546.3 981.7 L546.3 990.1 L548.5 990.1 L548.5 981.7 L548.5 998.6 L548.5 992.2 L550.7 992.2 L550.7 985.8 L550.7 999.4 L550.7 992.6 L552.9 992.6 L552.9 999.4 L552.9 985.2 L552.9 990.2 L555.1 990.2 L555.1 995.3 L555.1 981.7 L555.1 988.5 L557.3 988.5 L557.3 981.7 L557.3 1023.8 L557.3 1007.1 L559.5 1007.1 L559.5 990.3 L559.5 1023.8 L559.5 992.2 L561.7 992.2 L561.7 994.1 L561.7 988.9 L561.7 991.5 L564 991.5 L564 998.7 L564 964.1 L564 980.4 L566.2 980.4 L566.2 964.1 L566.2 996.7 L566.2 985.1 L568.4 985.1 L568.4 973.5 L568.4 999.4 L568.4 988.4 L570.6 988.4 L570.6 977.3 L570.6 999.4 L570.6 986.5 L572.8 986.5 L572.8 995.6 L572.8 973.1 L572.8 984.3 L575 984.3 L575 973.1 L575 1013.2 L575 1000.5 L577.2 1000.5 L577.2 987.8 L577.2 1013.2 L577.2 1000.1 L579.4 1000.1 L579.4 987.8 L579.4 1012.4 L579.4 1000.2 L581.6 1000.2 L581.6 988 L581.6 1043.4 L581.6 1022.5 L583.8 1022.5 L583.8 1001.6 L583.8 1043.4 L583.8 1010.1 L586 1010.1 L586 1018.6 L586 986.1 L586 1002.4 L588.2 1002.4 L588.2 986.1 L588.2 1022 L588.2 1004.2 L590.4 1004.2 L590.4 990.4 L590.4 1018 L590.4 1004.2 L592.6 1004.2 L592.6 989.4 L592.6 1026.3 L592.6 1007.8 L594.8 1007.8 L594.8 1026.3 L594.8 955.5 L594.8 988.6 L597 988.6 L597 1021.7 L597 955.5 L597 1004.2 L599.2 1004.2 L599.2 986.7 L599.2 1041.4 L599.2 1014.1 L601.4 1014.1 L601.4 1041.4 L601.4 985.7 L601.4 1010.5 L603.6 1010.5 L603.6 1035.2 L603.6 983.8 L603.6 1013.4 L605.8 1013.4 L605.8 991.6 L605.8 1035.2 L605.8 1013.4 L608 1013.4 L608 1035.2 L608 983.7 L608 1009.5 L610.2 1009.5 L610.2 1035.2 L610.2 983.7 L610.2 1019.4 L612.4 1019.4 L612.4 1005.7 L612.4 1033.1 L612.4 1018.8 L614.6 1018.8 L614.6 1005.7 L614.6 1031.9 L614.6 1018.9 L616.8 1018.9 L616.8 1005.9 L616.8 1050.2 L616.8 1029.2 L619 1029.2 L619 1008.2 L619 1050.2 L619 1014.6 L621.2 1014.6 L621.2 1021 L621.2 1006.3 L621.2 1010.6 L623.4 1010.6 L623.4 1007.2 L623.4 1013.9 L623.4 1010.6 L625.6 1010.6 L625.6 1018.9 L625.6 983.7 L625.6 1001.3 L627.8 1001.3 L627.8 983.7 L627.8 1021.4 L627.8 1012.2 L630 1012.2 L630 1003 L630 1021.4 L630 1012.5 L632.2 1012.5 L632.2 1004.2 L632.2 1020.8 L632.2 1012.5 L634.4 1012.5 L634.4 1021.4 L634.4 1001.6 L634.4 1010.5 L636.6 1010.5 L636.6 1001.6 L636.6 1019.4 L636.6 1015 L638.8 1015 L638.8 1010.7 L638.8 1058.9 L638.8 1034.8 L641 1034.8 L641 1058.9 L641 1005.7 L641 1026.5 L643.2 1026.5 L643.2 1005.7 L643.2 1047.3 L643.2 1031.4 L645.4 1031.4 L645.4 1015.4 L645.4 1054 L645.4 1036.2 L647.6 1036.2 L647.6 1018.5 L647.6 1054 L647.6 1033.1 L649.8 1033.1 L649.8 1019.1 L649.8 1047.2 L649.8 1032 L652 1032 L652 1045 L652 1012.2 L652 1028.6 L654.2 1028.6 L654.2 1012.2 L654.2 1045.1 L654.2 1029.2 L656.4 1029.2 L656.4 1013.2 L656.4 1048.3 L656.4 1030.8 L658.6 1030.8 L658.6 1048.3 L658.6 985.7 L658.6 1011.6 L660.8 1011.6 L660.8 985.7 L660.8 1037.6 L660.8 1010.3 L663 1010.3 L663 991.8 L663 1028.8 L663 1013.7 L665.2 1013.7 L665.2 998.5 L665.2 1041.4 L665.2 1020 L667.4 1020 L667.4 1041.4 L667.4 987.8 L667.4 1017.3 L669.6 1017.3 L669.6 1041.3 L669.6 993.3 L669.6 1017.2 L671.8 1017.2 L671.8 1041.1 L671.8 983.7 L671.8 1009.8 L674 1009.8 L674 983.7 L674 1035.9 L674 1017.5 L676.2 1017.5 L676.2 999 L676.2 1054.8 L676.2 1026.9 L678.4 1026.9 L678.4 1054.8 L678.4 984.9 L678.4 997.6 L680.6 997.6 L680.6 1010.2 L680.6 977.2 L680.6 993.7 L682.8 993.7 L682.8 977.2 L682.8 1017.3 L682.8 1004.2 L685 1004.2 L685 991.1 L685 1017.3 L685 1003.4 L687.2 1003.4 L687.2 1015.8 L687.2 983.7 L687.2 997.9 L689.4 997.9 L689.4 983.7 L689.4 1012.2 L689.4 1003.2 L691.6 1003.2 L691.6 994.3 L691.6 1023.8 L691.6 1009.1 L693.8 1009.1 L693.8 1023.8 L693.8 986.8 L693.8 1007.8 L696 1007.8 L696 991.7 L696 1023.8 L696 1007.8 L698.2 1007.8 L698.2 983.7 L698.2 1035.2 L698.2 1009.5 L700.4 1009.5 L700.4 1035.2 L700.4 983.7 L700.4 1006.7 L702.6 1006.7 L702.6 994.3 L702.6 1019.2 L702.6 1006.7 L704.8 1006.7 L704.8 994.3 L704.8 1021.1 L704.8 1005.8 L707 1005.8 L707 994.3 L707 1017.4 L707 1005.8 L709.2 1005.8 L709.2 994.3 L709.2 1026.3 L709.2 1018.4 L711.4 1018.4 L711.4 1026.3 L711.4 1010.5 L711.4 1019 L713.6 1019 L713.6 1026.3 L713.6 1011.7 L713.6 1019 L715.8 1019 L715.8 999.2 L715.8 1049.9 L715.8 1024.5 L718 1024.5 L718 999.2 L718 1049.9 L718 1003.4 L720.2 1003.4 L720.2 1007.6 L720.2 999.2 L720.2 1003.4 L722.4 1003.4 L722.4 999.2 L722.4 1010.4 L722.4 1004.6 L724.6 1004.6 L724.6 1010 L724.6 981.5 L724.6 995.8 L726.8 995.8 L726.8 981.5 L726.8 1011 L726.8 1003.5 L729 1003.5 L729 996.1 L729 1011 L729 1006 L731.2 1006 L731.2 1001.1 L731.2 1052.6 L731.2 1028.6 L733.4 1028.6 L733.4 1004.6 L733.4 1052.6 L733.4 1017.5 L735.6 1017.5 L735.6 1030.5 L735.6 994.5 L735.6 1012.5 L737.8 1012.5 L737.8 994.5 L737.8 1030.6 L737.8 1012.5 L740 1012.5 L740 1030.6 L740 975 L740 993.1 L742.2 993.1 L742.2 1011.2 L742.2 975 L742.2 997.4 L744.4 997.4 L744.4 983.6 L744.4 1017.5 L744.4 1000.6 L746.7 1000.6 L746.7 1017.5 L746.7 979.3 L746.7 998.4 L748.9 998.4 L748.9 977.1 L748.9 1026.5 L748.9 1001.8 L751.1 1001.8 L751.1 977.1 L751.1 1026.5 L751.1 1004.3 L753.3 1004.3 L753.3 1019.9 L753.3 988.8 L753.3 1004.3 L755.5 1004.3 L755.5 988.8 L755.5 1023.2 L755.5 1009.5 L757.7 1009.5 L757.7 995.8 L757.7 1023.2 L757.7 1004.8 L759.9 1004.8 L759.9 1013.8 L759.9 995.3 L759.9 1004.6 L762.1 1004.6 L762.1 995.3 L762.1 1017.5 L762.1 1006.4 L764.3 1006.4 L764.3 1017.5 L764.3 985.6 L764.3 997 L766.5 997 L766.5 1008.5 L766.5 985.6 L766.5 1000 L768.7 1000 L768.7 991.5 L768.7 1008.6 L768.7 1000.1 L770.9 1000.1 L770.9 1008.6 L770.9 985.6 L770.9 992.2 L773.1 992.2 L773.1 985.6 L773.1 998.8 L773.1 996.8 L775.3 996.8 L775.3 994.9 L775.3 1002.1 L775.3 998.5 L777.5 998.5 L777.5 1002.1 L777.5 993.7 L777.5 997.7 L779.7 997.7 L779.7 993.7 L779.7 1001.7 L781.9 1002.2 L781.9 1030.6 L781.9 1016.4 L784.1 1016.4 L784.1 1030.6 L784.1 985.6 L784.1 990.8 L786.3 990.8 L786.3 996 L786.3 985.6 L786.3 990.9 L788.5 990.9 L788.5 985.8 L788.5 999.6 L788.5 993.9 L790.7 993.9 L790.7 988.2 L790.7 999.6 L790.7 993.1 L792.9 993.1 L792.9 998 L792.9 983.9 L792.9 991 L795.1 991 L795.1 998 L795.1 983.9 L795.1 988.3 L797.3 988.3 L797.3 992.8 L797.3 972.5 L797.3 982.6 L799.5 982.6 L799.5 972.5 L799.5 1020 L799.5 1012.9 L801.7 1012.9 L801.7 1005.9 L801.7 1020 L801.7 1012.9 L803.9 1012.9 L803.9 1003.5 L803.9 1037.1 L803.9 1020.3 L806.1 1020.3 L806.1 1003.5 L806.1 1037.1 L806.1 1013.6 L808.3 1013.6 L808.3 1023.7 L808.3 999.4 L808.3 1011.5 L810.5 1011.5 L810.5 999.4 L810.5 1025.9 L810.5 1012.6 L812.7 1012.6 L812.7 1028.1 L812.7 988.5 L812.7 1008.3 L814.9 1008.3 L814.9 988.5 L814.9 1028.1 L814.9 1004.7 L817.1 1004.7 L817.1 1012 L817.1 997.4 L817.1 1004.7 L819.3 1004.7 L819.3 992.3 L819.3 1020 L819.3 1006.1 L821.5 1006.1 L821.5 1020 L821.5 990.4 L821.5 999.7 L823.7 999.7 L823.7 990.4 L823.7 1009.1 L823.7 1000.6 L825.9 1000.6 L825.9 992.2 L825.9 1013.5 L825.9 1002.8 L828.1 1002.8 L828.1 1013.5 L828.1 988.5 L828.1 997.6 L830.3 997.6 L830.3 988.5 L830.3 1006.6 L830.3 998.9 L832.5 998.9 L832.5 991.3 L832.5 1007 L832.5 999.1 L834.7 999.1 L834.7 990.4 L834.7 1012.7 L834.7 1001.5 L836.9 1001.5 L836.9 990.4 L836.9 1012.7 L836.9 999.2 L839.1 999.2 L839.1 1007.9 L839.1 953 L839.1 980.4 L841.3 980.4 L841.3 953 L841.3 1008.6 L841.3 987.4 L843.5 987.4 L843.5 966.3 L843.5 1008.6 L843.5 967.9 L845.7 967.9 L845.7 969.5 L845.7 953.8 L845.7 961.6 L847.9 961.6 L847.9 979.6 L847.9 937.5 L847.9 958.5 L850.1 958.5 L850.1 937.5 L850.1 980.1 L850.1 958.8 L852.3 958.8 L852.3 980.1 L852.3 929 L852.3 950 L854.5 950 L854.5 970.9 L854.5 929 L854.5 950 L856.7 950 L856.7 976.8 L856.7 913.5 L856.7 945.2 L858.9 945.2 L858.9 913.5 L858.9 976.8 L858.9 923.6 L861.1 923.6 L861.1 933.6 L861.1 902.4 L861.1 905.4 L863.3 905.4 L863.3 902.4 L863.3 908.4 L863.3 905 L865.5 905 L865.5 907.5 L865.5 847.4 L865.5 877.5 L867.7 877.5 L867.7 847.4 L867.7 907.5 L867.7 858.6 L869.9 858.6 L869.9 868.4 L869.9 848.8 L869.9 858.6 L872.1 858.6 L872.1 868.4 L872.1 819.3 L872.1 839.2 L874.3 839.2 L874.3 859 L874.3 819.3 L874.3 845.1 L876.5 845.1 L876.5 831.2 L876.5 859.5 L876.5 845.3 L878.7 845.3 L878.7 859.5 L878.7 829.9 L878.7 844.7 L880.9 844.7 L880.9 829.9 L880.9 897.8 L880.9 879.3 L883.1 879.3 L883.1 897.8 L883.1 860.9 L883.1 879.3 L885.3 879.3 L885.3 860.9 L885.3 965.4 L885.3 925.4 L887.5 925.4 L887.5 965.4 L887.5 885.3 L887.5 951.4 L889.7 951.4 L889.7 938.3 L889.7 964.5 L889.7 951.4 L891.9 951.4 L891.9 938.3 L891.9 973.5 L891.9 960 L894.1 960 L894.1 946.4 L894.1 973.5 L894.1 960 L896.3 960 L896.3 946.4 L896.3 1004.5 L896.3 980.4 L898.5 980.4 L898.5 956.3 L898.5 1004.5 L898.5 974.7 L900.7 974.7 L900.7 993.1 L900.7 946.4 L900.7 969.8 L902.9 969.8 L902.9 993.1 L902.9 937.5 L902.9 965.3 L905.1 965.3 L905.1 937.5 L905.1 993.1 L905.1 952.3 L907.3 952.3 L907.3 956.4 L907.3 948.1 L907.3 952.4 L909.5 952.4 L909.5 948.3 L909.5 956.4 L909.5 948.3 L911.7 948 L911.7 915.5 L911.7 931.8 L913.9 931.8 L913.9 915.5 L913.9 950.7 L913.9 948.9 L916.1 948.9 L916.1 947.1 L916.1 952.1 L916.1 949.5 L918.3 949.5 L918.3 951.9 L918.3 946.9 L918.3 950 L920.5 950 L920.5 948.1 L920.5 963 L920.5 955.5 L922.7 955.5 L922.7 963 L922.7 935.4 L922.7 949.2 L924.9 949.2 L924.9 935.4 L924.9 993.9 L924.9 973.8 L927.1 973.8 L927.1 953.8 L927.1 993.9 L927.1 967.6 L929.4 967.6 L929.4 981.4 L929.4 948.1 L929.4 964.8 L931.6 964.8 L931.6 948.1 L931.6 989.8 L931.6 969 L933.8 969 L933.8 989.8 L933.8 937.5 L933.8 963 L936 963 L936 937.5 L936 988.5 L936 970.7 L938.2 970.7 L938.2 952.9 L938.2 991.5 L938.2 972.2 L940.4 972.2 L940.4 991.5 L940.4 951.3 L940.4 958.4 L942.6 958.4 L942.6 951.3 L942.6 965.4 L942.6 958.4 L944.8 958.4 L944.8 965.4 L944.8 944.3 L944.8 954.9 L947 954.9 L947 944.3 L947 986.6 L947 978.5 L949.2 978.5 L949.2 986.6 L949.2 970.4 L949.2 978.1 L951.4 978.1 L951.4 985.9 L951.4 968.4 L951.4 977.2 L953.6 977.2 L953.6 968.4 L953.6 1000.4 L953.6 986.3 L955.8 986.3 L955.8 972.2 L955.8 1000.4 L955.8 985.9 L958 985.9 L958 999.6 L958 969.5 L958 984.6 L960.2 984.6 L960.2 999.6 L960.2 948.4 L960.2 974 L962.4 974 L962.4 948.4 L962.4 999.6 L962.4 980.7 L964.6 980.7 L964.6 975 L964.6 986.4 L964.6 983.4 L966.8 983.4 L966.8 980.4 L966.8 993.1 L966.8 986.7 L969 986.7 L969 993.1 L969 977.4 L969 985.3 L971.2 985.3 L971.2 977.4 L971.2 998 L971.2 989.7 L973.4 989.7 L973.4 998 L973.4 981.4 L973.4 984.3 L975.6 984.3 L975.6 987.2 L975.6 955.4 L975.6 971.3 L977.8 971.3 L977.8 955.4 L977.8 993.5 L977.8 985.1 L980 985.1 L980 976.7 L980 1002.1 L980 989.4 L982.2 989.4 L982.2 1002.1 L982.2 974.1 L982.2 985.2 L984.4 985.2 L984.4 974.1 L984.4 996.2 L984.4 990 L986.6 990 L986.6 983.9 L986.6 1029 L986.6 1006.4 L988.8 1006.4 L988.8 1029 L988.8 980.4 L988.8 987.1 L991 987.1 L991 993.7 L991 977.6 L991 985.7 L993.2 985.7 L993.2 994.5 L993.2 970.4 L993.2 982.4 L995.4 982.4 L995.4 970.4 L995.4 994.7 L995.4 984.8 L997.6 984.8 L997.6 994.7 L997.6 975 L997.6 982.9 L999.8 982.9 L999.8 990.9 L999.8 975 L999.8 983.1 L1002 983.1 L1002 975.3 L1002 1008.6 L1002 994.6 L1004.2 994.6 L1004.2 1008.6 L1004.2 980.7 L1004.2 987.4 L1006.4 987.4 L1006.4 994.2 L1006.4 961.9 L1006.4 975.4 L1008.6 975.4 L1008.6 961.9 L1008.6 989 L1008.6 981.3 L1010.8 981.3 L1010.8 973.6 L1010.8 998 L1010.8 987 L1013 987 L1013 976 L1013 998 L1013 984.5 L1015.2 984.5 L1015.2 993.1 L1015.2 968.4 L1015.2 980.8 L1017.4 980.8 L1017.4 993.1 L1017.4 926.6 L1017.4 944.9 L1019.6 944.9 L1019.6 926.6 L1019.6 963.3 L1019.6 957.9 L1021.8 957.9 L1021.8 952.5 L1021.8 963.8 L1021.8 958.2 L1024 958.2 L1024 963.8 L1024 951.3 L1024 957.6 L1026.2 957.6 L1026.2 951.3 L1026.2 978.1 L1026.2 964.7 L1028.4 964.7 L1028.4 978.1 L1028.4 933.4 L1028.4 945.3 L1030.6 945.3 L1030.6 933.4 L1030.6 957.3 L1030.6 945.3 L1032.8 945.3 L1032.8 957.3 L1032.8 920.4 L1032.8 933.4 L1035 933.4 L1035 920.4 L1035 946.5 L1035 934.1 L1037.2 934.1 L1037.2 921.7 L1037.2 949.9 L1037.2 935.8 L1039.4 935.8 L1039.4 949.9 L1039.4 907 L1039.4 928.5 L1041.6 928.5 L1041.6 907 L1041.6 956.4 L1041.6 944.9 L1043.8 944.9 L1043.8 933.4 L1043.8 956.4 L1043.8 944.9 L1046 944.9 L1046 933.4 L1046 978.1 L1046 963 L1048.2 963 L1048.2 978.1 L1048.2 948 L1048.2 952.6 L1050.4 952.6 L1050.4 957.3 L1050.4 944.8 L1050.4 951 L1052.6 951 L1052.6 957.3 L1052.6 924.4 L1052.6 940.8 L1054.8 940.8 L1054.8 924.4 L1054.8 978.4 L1054.8 974.5 L1057 974.5 L1057 970.6 L1057 978.4 L1057 974.5 L1059.2 974.5 L1059.2 970.1 L1059.2 995.5 L1059.2 982.8 L1061.4 982.8 L1061.4 970.1 L1061.4 995.5 L1061.4 985.7 L1063.6 985.7 L1063.6 975.8 L1063.6 1002.1 L1063.6 990.3 L1065.8 990.3 L1065.8 978.5 L1065.8 1002.1 L1065.8 990.3 L1068 990.3 L1068 1002.1 L1068 948.6 L1068 975.3 L1070.2 975.3 L1070.2 948.6 L1070.2 1033 L1070.2 1007.2 L1072.4 1007.2 L1072.4 981.4 L1072.4 1033 L1072.4 990.7 L1074.6 990.7 L1074.6 1000.1 L1074.6 977.1 L1074.6 988.6 L1076.8 988.6 L1076.8 977.1 L1076.8 1000.9 L1076.8 991.9 L1079 991.9 L1079 982.9 L1079 1002.1 L1079 992.5 L1081.2 992.5 L1081.2 1002.1 L1081.2 981.5 L1081.2 991.8 L1083.4 991.8 L1083.4 981.5 L1083.4 1012.7 L1083.4 997.1 L1085.6 997.1 L1085.6 1012.7 L1085.6 964 L1085.6 982.2 L1087.8 982.2 L1087.8 1000.4 L1087.8 964 L1087.8 988.3 L1090 988.3 L1090 976.2 L1090 1008.6 L1090 992.4 L1092.2 992.4 L1092.2 1008.6 L1092.2 974 L1092.2 988.7 L1094.4 988.7 L1094.4 1003.3 L1094.4 970.6 L1094.4 987 L1096.6 987 L1096.6 970.6 L1096.6 1015.1 L1096.6 1004.4 L1098.8 1004.4 L1098.8 1015.1 L1098.8 993.7 L1098.8 1004.4 L1101 1004.4 L1101 993.7 L1101 1024.1 L1101 1009.8 L1103.2 1009.8 L1103.2 995.6 L1103.2 1024.1 L1103.2 1002.9 L1105.4 1002.9 L1105.4 1010.2 L1105.4 979.5 L1105.4 994.9 L1107.6 994.9 L1107.6 1010.2 L1107.6 979.5 L1107.6 1001.7 L1109.9 1001.7 L1109.9 1006.1 L1109.9 997.3 L1109.9 1001.5 L1112.1 1001.5 L1112.1 1005.8 L1112.1 997 L1112.1 1001 L1114.3 1001 L1114.3 997 L1114.3 1005 L1114.3 1001.6 L1116.5 1001.6 L1116.5 999.1 L1116.5 1004.2 L1116.5 1001.6 L1118.7 1001.6 L1118.7 997.9 L1118.7 1006.1 L1118.7 1002 L1120.9 1002 L1120.9 1006.1 L1120.9 992.1 L1120.9 997.2 L1123.1 997.2 L1123.1 1002.4 L1123.1 992.1 L1123.1 998.2 L1125.3 998.2 L1125.3 994 L1125.3 1015.1 L1125.3 1005.9 L1127.5 1005.9 L1127.5 996.8 L1127.5 1015.1 L1127.5 1004.8 L1129.7 1004.8 L1129.7 1012.8 L1129.7 981.5 L1129.7 997.1 L1131.9 997.1 L1131.9 981.5 L1131.9 1033 L1131.9 1017 L1134.1 1017 L1134.1 1001 L1134.1 1033 L1134.1 1008.6 L1136.3 1008.6 L1136.3 1004.5 L1136.3 1012.7 L1136.3 1008.6 L1138.5 1008.6 L1138.5 1012.7 L1138.5 994.5 L1138.5 1003.6 L1140.7 1003.6 L1140.7 1012.7 L1140.7 994.5 L1140.7 1000.7 L1142.9 1000.7 L1142.9 1006.9 L1142.9 970.1 L1142.9 988.5 L1145.1 988.5 L1145.1 970.1 L1145.1 1007.9 L1145.1 994.7 L1147.3 994.7 L1147.3 981.4 L1147.3 1008.6 L1147.3 995 L1149.5 995 L1149.5 977.4 L1149.5 1030.6 L1149.5 1004 L1151.7 1004 L1151.7 977.4 L1151.7 1030.6 L1151.7 1002.8 L1153.9 1002.8 L1153.9 994.5 L1153.9 1011 L1153.9 1002.8 L1156.1 1002.8 L1156.1 1011 L1156.1 990.4 L1156.1 1000.7 L1158.3 1000.7 L1158.3 1011 L1158.3 990.4 L1158.3 993.4 L1160.5 993.4 L1160.5 996.4 L1160.5 979.5 L1160.5 987.9 L1162.7 987.9 L1162.7 996.4 L1162.7 955.4 L1162.7 974.7 L1164.9 974.7 L1164.9 994 L1164.9 955.4 L1164.9 976.8 L1167.1 976.8 L1167.1 959.5 L1167.1 1002.1 L1167.1 982.1 L1169.3 982.1 L1169.3 962.2 L1169.3 1002.1 L1169.3 980.6 L1171.5 980.6 L1171.5 998.9 L1171.5 959.5 L1171.5 979.2 L1173.7 979.2 L1173.7 959.5 L1173.7 999.2 L1173.7 984.9 L1175.9 984.9 L1175.9 970.7 L1175.9 1012.7 L1175.9 991.7 L1178.1 991.7 L1178.1 1012.7 L1178.1 946.4 L1178.1 969.2 L1180.3 969.2 L1180.3 946.4 L1180.3 991.9 L1180.3 973.4 L1182.5 973.4 L1182.5 955 L1182.5 998 L1182.5 978 L1184.7 978 L1184.7 958 L1184.7 998 L1184.7 972.7 L1186.9 972.7 L1186.9 987.4 L1186.9 935.5 L1186.9 961.4 L1189.1 961.4 L1189.1 935.5 L1189.1 1004.5 L1189.1 992.2 L1191.3 992.2 L1191.3 979.9 L1191.3 1004.5 L1191.3 986.2 L1193.5 986.2 L1193.5 992.4 L1193.5 977.4 L1193.5 984.9 L1195.7 984.9 L1195.7 977.4 L1195.7 995.5 L1195.7 986.5 L1197.9 986.5 L1197.9 995.5 L1197.9 977.4 L1197.9 985.2 L1200.1 985.2 L1200.1 977.4 L1200.1 993 L1200.1 992.2 L1202.3 992.2 L1202.3 991.3 L1202.3 999.6 L1202.3 995.5 L1204.5 995.5 L1204.5 999.6 L1204.5 991.2 L1204.5 995.4 L1206.7 995.4 L1206.7 999.6 L1206.7 989.9 L1206.7 995.4 L1208.9 995.4 L1208.9 991.2 L1208.9 1008.6 L1208.9 999.9 L1211.1 999.9 L1211.1 1008.6 L1211.1 988.5 L1211.1 997.2 L1213.3 997.2 L1213.3 988.5 L1213.3 1005.9 L1213.3 997.1 L1215.5 997.1 L1215.5 1003.7 L1215.5 990.4 L1215.5 997.1 L1217.7 997.1 L1217.7 990.4 L1217.7 1011 L1217.7 1000.7 L1219.9 1000.7 L1219.9 1011 L1219.9 979.5 L1219.9 984.3 L1222.1 984.3 L1222.1 979.5 L1222.1 989 L1222.1 987 L1224.3 987 L1224.3 985 L1224.3 990 L1224.3 988.4 L1226.5 988.4 L1226.5 986.8 L1226.5 1015.1 L1226.5 1001 L1228.7 1001 L1228.7 1015.1 L1228.7 977.1 L1228.7 991.7 L1230.9 991.7 L1230.9 977.1 L1230.9 1006.3 L1230.9 999.6 L1233.1 999.6 L1233.1 992.8 L1233.1 1012.7 L1233.1 1002.7 L1235.3 1002.7 L1235.3 1012.7 L1235.3 988 L1235.3 1000.3 L1237.5 1000.3 L1237.5 988 L1237.5 1012.7 L1237.5 1001.9 L1239.7 1001.9 L1239.7 1012.7 L1239.7 991.1 L1239.7 991.8 L1241.9 991.8 L1241.9 992.5 L1241.9 987.5 L1241.9 987.7 L1244.1 987.7 L1244.1 987.8 L1244.1 968.4 L1244.1 977.4 L1246.3 977.4 L1246.3 968.4 L1246.3 986.5 L1246.3 980.2 L1248.5 980.2 L1248.5 973.9 L1248.5 991.5 L1248.5 982.7 L1250.7 982.7 L1250.7 991.5 L1250.7 971.1 L1250.7 984.2 L1252.9 984.2 L1252.9 976.9 L1252.9 1002.1 L1252.9 989.5 L1255.1 989.5 L1255.1 1002.1 L1255.1 973.4 L1255.1 977.4 L1257.3 977.4 L1257.3 981.5 L1257.3 970.6 L1257.3 976 L1259.5 976 L1259.5 970.6 L1259.5 982.5 L1259.5 979.7 L1261.7 979.7 L1261.7 976.8 L1261.7 982.5 L1261.7 980.7 L1263.9 980.7 L1263.9 978.8 L1263.9 983.8 L1263.9 981.3 L1266.1 981.3 L1266.1 975.8 L1266.1 1017.5 L1266.1 996.7 L1268.3 996.7 L1268.3 1017.5 L1268.3 975 L1268.3 993.7 L1270.5 993.7 L1270.5 978.8 L1270.5 1008.6 L1270.5 992 L1272.7 992 L1272.7 1005.1 L1272.7 972.5 L1272.7 988.8 L1274.9 988.8 L1274.9 972.5 L1274.9 1008.6 L1274.9 998.3 L1277.1 998.3 L1277.1 1008.6 L1277.1 988.1 L1277.1 996.3 L1279.3 996.3 L1279.3 1004.4 L1279.3 981.5 L1279.3 993 L1281.5 993 L1281.5 981.5 L1281.5 1021.6 L1281.5 1002.9 L1283.7 1002.9 L1283.7 984.2 L1283.7 1021.6 L1283.7 992.4 L1285.9 992.4 L1285.9 1000.7 L1285.9 979.5 L1285.9 990.1 L1288.1 990.1 L1288.1 979.5 L1288.1 1004.5 L1288.1 992 L1290.3 992 L1290.3 1004.5 L1290.3 948.6 L1290.3 973.1 L1292.6 973.1 L1292.6 997.6 L1292.6 948.6 L1292.6 984.4 L1294.8 984.4 L1294.8 971.2 L1294.8 1015.1 L1294.8 993.2 L1297 993.2 L1297 1015.1 L1297 970.1 L1297 992 L1299.2 992 L1299.2 1014 L1299.2 970.1 L1299.2 1001.4 L1301.4 1001.4 L1301.4 989.4 L1301.4 1013.4 L1301.4 1001.4 L1303.6 1001.4 L1303.6 1017.5 L1303.6 981.7 L1303.6 999.6 L1305.8 999.6 L1305.8 1017.5 L1305.8 981.5 L1305.8 995.9 L1308 995.9 L1308 981.5 L1308 1010.3 L1308 1008.8 L1310.2 1008.8 L1310.2 1007.3 L1310.2 1015.4 L1310.2 1011.3 L1312.4 1011.3 L1312.4 1007.2 L1312.4 1026.5 L1312.4 1016.9 L1314.6 1016.9 L1314.6 1026.5 L1314.6 1005.1 L1314.6 1014 L1316.8 1014 L1316.8 1005.1 L1316.8 1022.9 L1316.8 1014.3 L1319 1014.3 L1319 1005.7 L1319 1037.1 L1319 1023.3 L1321.2 1023.3 L1321.2 1009.6 L1321.2 1037.1 L1321.2 1009.6 L1323.4 1000.5 L1323.4 970.6 L1323.4 985.5 L1325.6 985.5 L1325.6 970.6 L1325.6 1006.1 L1325.6 1001.5 L1327.8 1001.5 L1327.8 996.9 L1327.8 1006.1 L1327.8 1001.3 L1330 1001.3 L1330 1005.7 L1330 994.5 L1330 1000.1 L1332.2 1000.1 L1332.2 994.5 L1332.2 1035.5 L1332.2 1017.6 L1334.4 1017.6 L1334.4 999.7 L1334.4 1035.5 L1334.4 1005.5 L1336.6 1005.5 L1336.6 1011.4 L1336.6 995.7 L1336.6 1003.5 L1338.8 1003.5 L1338.8 1014.5 L1338.8 981.5 L1338.8 995.2 L1341 995.2 L1341 981.5 L1341 1008.9 L1341 1000.4 L1343.2 1000.4 L1343.2 991.9 L1343.2 1015.1 L1343.2 1003.5 L1345.4 1003.5 L1345.4 1015.1 L1345.4 987 L1345.4 1000.7 L1347.6 1000.7 L1347.6 1014.3 L1347.6 985.6 L1347.6 999.9 L1349.8 999.9 L1349.8 985.6 L1349.8 1046.1 L1349.8 1026.1 L1352 1026.1 L1352 1006.1 L1352 1046.1 L1352 1013.5 L1354.2 1013.5 L1354.2 1020.9 L1354.2 1001.2 L1354.2 1011.1 L1356.4 1011.1 L1356.4 1028.1 L1356.4 992.9 L1356.4 1010.5 L1358.6 1010.5 L1358.6 992.9 L1358.6 1028.1 L1358.6 1008.9 L1360.8 1008.9 L1360.8 992.9 L1360.8 1024.9 L1360.8 1012.9 L1363 1012.9 L1363 1024.9 L1363 1000.8 L1363 1012.9 L1365.2 1012.9 L1365.2 1024.9 L1365.2 961.9 L1365.2 983.2 L1367.4 983.2 L1367.4 961.9 L1367.4 1004.5 L1367.4 1003.6 L1369.6 1003.6 L1369.6 1002.7 L1369.6 1007.7 L1369.6 1006 L1371.8 1006 L1371.8 1004.3 L1371.8 1021.6 L1371.8 1013.2 L1374 1013.2 L1374 1004.9 L1374 1021.6 L1374 1012.5 L1376.2 1012.5 L1376.2 1006.7 L1376.2 1018.2 L1376.2 1012.5 L1378.4 1012.5 L1378.4 1021.2 L1378.4 1003.5 L1378.4 1012.3 L1380.6 1012.3 L1380.6 1003.5 L1380.6 1035.5 L1380.6 1019.5 L1382.8 1019.5 L1382.8 1035.5 L1382.8 1003.5 L1382.8 1015 L1385 1015 L1385 1026.5 L1385 1003.5 L1385 1015 L1387.2 1015 L1387.2 1026.5 L1387.2 963.9 L1387.2 991.1 L1389.4 991.1 L1389.4 1018.4 L1389.4 963.9 L1389.4 1007.3 L1391.6 1007.3 L1391.6 996.3 L1391.6 1050.1 L1391.6 1029.6 L1393.8 1029.6 L1393.8 1009.2 L1393.8 1050.1 L1393.8 1014.4 L1396 1014.4 L1396 1019.6 L1396 995.3 L1396 1007.4 L1398.2 1007.4 L1398.2 995.3 L1398.2 1021.6 L1398.2 1011.5 L1400.4 1011.5 L1400.4 1001.4 L1400.4 1021.6 L1400.4 1009 L1402.6 1009 L1402.6 1016.6 L1402.6 999.7 L1402.6 1008.1 L1404.8 1008.1 L1404.8 1020.2 L1404.8 981.5 L1404.8 999.5 L1407 999.5 L1407 981.5 L1407 1017.6 L1407 1004.3 L1409.2 1004.3 L1409.2 990.9 L1409.2 1026.5 L1409.2 1008.7 L1411.4 1008.7 L1411.4 1026.5 L1411.4 990.9 L1411.4 1005.8 L1413.6 1005.8 L1413.6 1020.7 L1413.6 990.4 L1413.6 1005.6 L1415.8 1005.6 L1415.8 990.4 L1415.8 1033 L1415.8 1012.5 L1418 1012.5 L1418 1033 L1418 992.1 L1418 1001.5 L1420.2 1001.5 L1420.2 992.1 L1420.2 1011 L1420.2 1002.1 L1422.4 1002.1 L1422.4 993.2 L1422.4 1011 L1422.4 998.6 L1424.6 998.6 L1424.6 1004.1 L1424.6 981.5 L1424.6 992.8 L1426.8 992.8 L1426.8 981.5 L1426.8 1009.8 L1426.8 993 L1429 993 L1429 1004.5 L1429 970.6 L1429 987.5 L1431.2 987.5 L1431.2 970.6 L1431.2 1035.5 L1431.2 1012.8 L1433.4 1012.8 L1433.4 990.2 L1433.4 1035.5 L1433.4 1012.8 L1435.6 1012.8 L1435.6 1035.5 L1435.6 982.5 L1435.6 1009 L1437.8 1009 L1437.8 980.1 L1437.8 1046.1 L1437.8 1015 L1440 1015 L1440 983.9 L1440 1046.1 L1440 1004.9 L1442.2 1004.9 L1442.2 1025.9 L1442.2 979.5 L1442.2 1002.7 L1444.4 1002.7 L1444.4 979.5 L1444.4 1030.2 L1444.4 1005.4 L1446.6 1005.4 L1446.6 980.6 L1446.6 1030.6 L1446.6 1005.6 L1448.8 1005.6 L1448.8 1030.6 L1448.8 979.7 L1448.8 1001.5 L1451 1001.5 L1451 1023.3 L1451 970.6 L1451 996.9 L1453.2 996.9 L1453.2 970.6 L1453.2 1030.6 L1453.2 1006 L1455.4 1006 L1455.4 981.5 L1455.4 1030.6 L1455.4 997.1 L1457.6 997.1 L1457.6 981.5 L1457.6 1012.7 L1457.6 997.6 L1459.8 997.6 L1459.8 982.5 L1459.8 1021.6 L1459.8 1002.1 L1462 1002.1 L1462 1021.6 L1462 981.5 L1462 1000.2 L1464.2 1000.2 L1464.2 987.7 L1464.2 1012.6 L1464.2 998.9 L1466.4 998.9 L1466.4 1010 L1466.4 975 L1466.4 992.5 L1468.6 992.5 L1468.6 975 L1468.6 1035.5 L1468.6 1009 L1470.8 1009 L1470.8 1035.5 L1470.8 982.6 L1470.8 999.5 L1473 999.5 L1473 1016.5 L1473 953 L1473 984.7 L1475.3 984.7 L1475.3 953 L1475.3 1020 L1475.3 1005.6 L1477.5 1005.6 L1477.5 991.2 L1477.5 1020 L1477.5 1001.8 L1479.7 1001.8 L1479.7 1012.4 L1479.7 984.3 L1479.7 998.4 L1481.9 998.4 L1481.9 983.9 L1481.9 1017.5 L1481.9 1000.7 L1484.1 1000.7 L1484.1 983.9 L1484.1 1017.5 L1484.1 993.6 L1486.3 993.6 L1486.3 984.2 L1486.3 1003 L1486.3 993.6 L1488.5 993.6 L1488.5 1004.5 L1488.5 981.5 L1488.5 993 L1490.7 993 L1490.7 981.5 L1490.7 1004.5 L1490.7 994.5 L1492.9 994.5 L1492.9 985.8 L1492.9 1003.2 L1492.9 994.5 L1495.1 994.5 L1495.1 1004.1 L1495.1 983.9 L1495.1 994 L1497.3 994 L1497.3 983.9 L1497.3 1030.6 L1497.3 1007.3 L1499.5 1007.3 L1499.5 1030.6 L1499.5 981.5 L1499.5 1002.1 L1501.7 1002.1 L1501.7 981.5 L1501.7 1022.8 L1501.7 1006.3 L1503.9 1006.3 L1503.9 989.8 L1503.9 1024.1 L1503.9 1006.9 L1506.1 1006.9 L1506.1 1024.1 L1506.1 981.5 L1506.1 1000.3 L1508.3 1000.3 L1508.3 981.5 L1508.3 1019.2 L1508.3 1002.8 L1510.5 1002.8 L1510.5 986.5 L1510.5 1019.2 L1510.5 1003.8 L1512.7 1003.8 L1512.7 988.5 L1512.7 1042 L1512.7 1015.2 L1514.9 1015.2 L1514.9 1042 L1514.9 983 L1514.9 993.3 L1517.1 993.3 L1517.1 990.8 L1517.1 995.8 L1517.1 992.7 L1519.3 992.7 L1519.3 994.5 L1519.3 981.5 L1519.3 987.2 L1521.5 987.2 L1521.5 981.5 L1521.5 992.9 L1523.7 996.4 L1523.7 1004 L1523.7 1000.2 L1525.9 1000.2 L1525.9 994.6 L1525.9 1030.6 L1525.9 1015.9 L1528.1 1015.9 L1528.1 1001.3 L1528.1 1030.6 L1528.1 1005.4 L1530.3 1005.4 L1530.3 1002.1 L1530.3 1008.7 L1530.3 1005.4 L1532.5 1005.4 L1532.5 1009.4 L1532.5 994.5 L1532.5 1002 L1534.7 1002 L1534.7 994.5 L1534.7 1009.4 L1534.7 1002.8 L1536.9 1002.8 L1536.9 997 L1536.9 1008.6 L1536.9 1004.2 L1539.1 1004.2 L1539.1 999.9 L1539.1 1021.6 L1539.1 1010.7 L1541.3 1010.7 L1541.3 1021.6 L1541.3 975 L1541.3 992.9 L1543.5 992.9 L1543.5 975 L1543.5 1010.8 L1543.5 994.4 L1545.7 994.4 L1545.7 978.1 L1545.7 1021.6 L1545.7 1003.4 L1547.9 1003.4 L1547.9 985.1 L1547.9 1021.6 L1547.9 991.1 L1550.1 991.1 L1550.1 997.1 L1550.1 961.9 L1550.1 979.5 L1552.3 979.5 L1552.3 961.9 L1552.3 1003.8 L1552.3 987.8 L1554.5 987.8 L1554.5 971.7 L1554.5 1004.5 L1554.5 988.1 L1556.7 988.1 L1556.7 1004.5 L1556.7 931 L1556.7 964.5 L1558.9 964.5 L1558.9 931 L1558.9 998 L1558.9 973 L1561.1 973 L1561.1 948.1 L1561.1 998 L1561.1 965.3 L1563.3 965.3 L1563.3 982.5 L1563.3 942.4 L1563.3 962.4 L1565.5 962.4 L1565.5 942.4 L1565.5 982.5 L1565.5 962.4 L1567.6 941 L1567.6 880 L1571.7 872 L1571.7 850 L1572.3 850 L1572.3 834 L1574.4 834 L1574.4 817 L1576.5 817 L1576.5 782 L1580.7 782 L1580.7 679 L1582.8 679 L1582.8 661 L1585 661 L1585 615 L1588 615 L1588 590.5 L1589.7 592 L1589.7 687 L1591.8 687 L1591.8 726 L1594 726 L1594 712 L1596 712 L1596 746 L1598.5 746 L1598.5 875 L1601 875 L1601 865 L1604 865 L1604 873 L1606.8 873 L1606.8 957 L1609 957 L1609 960 L1611 969.8 L1611 967 L1611 972.5 L1611 969.8 L1613.2 969.8 L1613.2 967 L1613.2 972.5 L1613.2 971.5 L1615.4 971.5 L1615.4 970.5 L1615.4 975.5 L1615.4 973 L1617.6 973 L1617.6 970.5 L1617.6 975.5 L1617.6 974 L1619.8 974 L1619.8 972.5 L1619.8 999.6 L1619.8 986.1 L1622 986.1 L1622 972.5 L1622 999.6 L1622 984.7 L1624.2 984.7 L1624.2 975.8 L1624.2 993.6 L1624.2 992.7 L1626.4 992.7 L1626.4 991.7 L1626.4 1021.6 L1626.4 1006.6 L1628.6 1006.6 L1628.6 1021.6 L1628.6 987.5 L1628.6 995.5 L1630.8 995.5 L1630.8 1003.5 L1630.8 983.9 L1630.8 993.7 L1633 993.7 L1633 983.9 L1633 1006.1 L1633 997.3 L1635.2 997.3 L1635.2 988.6 L1635.2 1006.1 L1635.2 998 L1637.4 998 L1637.4 989.8 L1637.4 1030.6 L1637.4 1013.5 L1639.6 1013.5 L1639.6 1030.6 L1639.6 996.4 L1639.6 1006.7 L1641.8 1006.7 L1641.8 1017 L1641.8 988.5 L1641.8 1002.7 L1644 1002.7 L1644 988.5 L1644 1018.6 L1644 1005.2 L1646.2 1005.2 L1646.2 991.8 L1646.2 1019.2 L1646.2 1006.2 L1648.4 1006.2 L1648.4 993.3 L1648.4 1019.2 L1648.4 1004 L1650.6 1004 L1650.6 1014.7 L1650.6 988.5 L1650.6 1001.6 L1652.8 1001.6 L1652.8 988.5 L1652.8 1037.1 L1652.8 1014.5 L1655 1014.5 L1655 1037.1 L1655 992 L1655 1015 L1657.2 1015 L1657.2 992.9 L1657.2 1046.1 L1657.2 1019.5 L1659.5 1019.5 L1659.5 1046.1 L1659.5 988.5 L1659.5 1003.8 L1661.7 1003.8 L1661.7 1019.2 L1661.7 988.5 L1661.7 1010.6 L1663.9 1010.6 L1663.9 1002.1 L1663.9 1022.4 L1663.9 1012.2 L1666.1 1012.2 L1666.1 1022.4 L1666.1 997.9 L1666.1 1010.2 L1668.3 1010.2 L1668.3 996.2 L1668.3 1043.6 L1668.3 1020.5 L1670.5 1020.5 L1670.5 1043.6 L1670.5 997.5 L1670.5 1005.4 L1672.7 1005.4 L1672.7 1013.4 L1672.7 993 L1672.7 1001.6 L1674.9 1001.6 L1674.9 1010.2 L1674.9 992.9 L1674.9 1001.6 L1677.1 1001.6 L1677.1 992.9 L1677.1 1013.5 L1677.1 1009.2 L1679.3 1009.2 L1679.3 1004.9 L1679.3 1013.5 L1679.3 1009.2 L1681.5 1009.2 L1681.5 1001.8 L1681.5 1059.1 L1681.5 1030.5 L1683.7 1030.5 L1683.7 1059.1 L1683.7 1001.8 L1683.7 1014 L1685.9 1014 L1685.9 1026.2 L1685.9 963.9 L1685.9 995 L1688.1 995 L1688.1 963.9 L1688.1 1030.1 L1688.1 1013.9 L1690.3 1013.9 L1690.3 997.7 L1690.3 1034.7 L1690.3 1017.6 L1692.5 1017.6 L1692.5 1000.5 L1692.5 1034.7 L1692.5 1009.7 L1694.7 1009.7 L1694.7 1018.9 L1694.7 997 L1694.7 1007.9 L1696.9 1007.9 L1696.9 997 L1696.9 1026.5 L1696.9 1025.8 L1699.1 1025.8 L1699.1 1025.1 L1699.1 1030.1 L1699.1 1027.3 L1701.3 1027.3 L1701.3 1029.5 L1701.3 1024.5 L1701.3 1029.4 L1703.5 1029.4 L1703.5 1029.4 L1703.5 1043.6 L1703.5 1036.5 L1705.7 1036.5 L1705.7 1043.6 L1705.7 1025.5 L1705.7 1034.2 L1707.9 1034.2 L1707.9 1025.5 L1707.9 1042.9 L1707.9 1033.3 L1710.1 1033.3 L1710.1 1041.2 L1710.1 1019 L1710.1 1030.1 L1712.3 1030.1 L1712.3 1019 L1712.3 1047.7 L1712.3 1036.9 L1714.5 1036.9 L1714.5 1026 L1714.5 1047.7 L1714.5 1034.7 L1716.7 1034.7 L1716.7 1043.4 L1716.7 1022.3 L1716.7 1032.8 L1718.9 1032.8 L1718.9 1045.7 L1718.9 994.8 L1718.9 1018.4 L1721.1 1018.4 L1721.1 1042.1 L1721.1 994.8 L1721.1 1026.8 L1723.3 1026.8 L1723.3 1011.6 L1723.3 1063.2 L1723.3 1037.4 L1725.5 1037.4 L1725.5 1063.2 L1725.5 994.8 L1725.5 1012.1 L1727.7 1012.1 L1727.7 1029.4 L1727.7 994.8 L1727.7 1011.8 L1729.9 1011.8 L1729.9 994.8 L1729.9 1028.8 L1729.9 1018.3 L1732.1 1018.3 L1732.1 1007.7 L1732.1 1037.1 L1732.1 1022.4 L1734.3 1022.4 L1734.3 1037.1 L1734.3 1005.7 L1734.3 1020.7 L1736.5 1020.7 L1736.5 1006.7 L1736.5 1034.7 L1736.5 1020.7 L1738.7 1020.7 L1738.7 1034.7 L1738.7 1003.1 L1738.7 1018.9 L1740.9 1018.9 L1740.9 1034.7 L1740.9 999.4 L1740.9 1017 L1743.1 1017 L1743.1 999.4 L1743.1 1034.7 L1743.1 1028.8 L1745.3 1028.8 L1745.3 1025.6 L1745.3 1032.1 L1745.3 1028.8 L1747.5 1028.8 L1747.5 1023.1 L1747.5 1046.1 L1747.5 1034.6 L1749.7 1034.6 L1749.7 1046.1 L1749.7 1023 L1751.9 1023 L1751.9 1015.4 L1751.9 1020.6 L1754.1 1020.6 L1754.1 1018.2 L1754.1 1023.2 L1754.1 1019.6 L1756.4 1019.6 L1756.4 1020.9 L1756.4 992.9 L1756.4 1005.9 L1758.6 1005.9 L1758.6 1018.9 L1758.6 992.9 L1758.6 1009 L1760.8 1009 L1760.8 999.2 L1760.8 1021.6 L1760.8 1010.4 L1763 1010.4 L1763 1021.6 L1763 998.4 L1763 1008.7 L1765.2 1008.7 L1765.2 1019 L1765.2 998.3 L1765.2 1008.3 L1767.4 1008.3 L1767.4 1018.4 L1767.4 997 L1767.4 1007.7 L1769.6 1007.7 L1769.6 997 L1769.6 1018.5 L1769.6 1011.9 L1771.8 1011.9 L1771.8 1005.4 L1771.8 1026.5 L1771.8 1015.9 L1774 1015.9 L1774 1026.5 L1774 1003.5 L1774 1013.5 L1776.2 1013.5 L1776.2 1023.5 L1776.2 1003.5 L1776.2 1013.5 L1778.4 1013.5 L1778.4 1003.5 L1778.4 1024.1 L1778.4 1014 L1780.6 1014 L1780.6 1003.9 L1780.6 1024.1 L1780.6 1012.2 L1782.8 1012.2 L1782.8 1020.6 L1782.8 994.8 L1782.8 1007.7 L1785 1007.7 L1785 994.8 L1785 1033 L1785 1022.5 L1787.2 1022.5 L1787.2 1011.9 L1787.2 1059.1 L1787.2 1035.5 L1789.4 1035.5 L1789.4 1059.1 L1789.4 1010.6 L1789.4 1017.8 L1791.6 1017.8 L1791.6 1025 L1791.6 999.4 L1791.6 1012 L1793.8 1012 L1793.8 1024.6 L1793.8 972.5 L1793.8 998.6 L1796 998.6 L1796 972.5 L1796 1034.9 L1796 1020 L1798.2 1020 L1798.2 1005.1 L1798.2 1037.1 L1798.2 1021.1 L1800.4 1021.1 L1800.4 1037.1 L1800.4 997 L1800.4 1017 L1802.6 1017 L1802.6 997 L1802.6 1037.1 L1802.6 1017" fill="none" stroke="#f00" stroke-width="4.5" stroke-linejoin="bevel"/>
<rect x="179.1" y="13.1" width="1625.1" height="1197.8" fill="none" stroke="#000" stroke-width="4.1"/>
<path d="M286.5 1185.6V1215M396.3 1198V1215M503.5 1185.6V1215M613.2 1198V1215M720.5 1185.6V1215M830.0 1198V1215M937.3 1185.6V1215M1044.6 1198V1215M1153.9 1185.6V1215M1261.2 1198V1215M1370.9 1185.6V1215M1478.0 1198V1215M1587.5 1185.6V1215M1694.8 1198V1215M1804.5 1210V1215" stroke="#000" stroke-width="3.6" fill="none"/>
<path d="M179.1 62.2H184.0M1804.2 62.2H1808.8M179.1 110.3H184.0M1804.2 110.3H1808.8M179.1 158.4H184.0M1804.2 158.4H1808.8M179.1 206.4H184.0M1804.2 206.4H1808.8M179.1 254.5H184.0M1804.2 254.5H1808.8M179.1 302.6H184.0M1804.2 302.6H1808.8M179.1 350.7H184.0M1804.2 350.7H1808.8M179.1 398.8H184.0M1804.2 398.8H1808.8M179.1 446.8H184.0M1804.2 446.8H1808.8M179.1 494.9H184.0M1804.2 494.9H1808.8M179.1 543.0H184.0M1804.2 543.0H1808.8M179.1 591.1H184.0M1804.2 591.1H1808.8M179.1 639.2H184.0M1804.2 639.2H1808.8M179.1 687.2H184.0M1804.2 687.2H1808.8M179.1 735.3H184.0M1804.2 735.3H1808.8M179.1 783.4H184.0M1804.2 783.4H1808.8M179.1 831.5H184.0M1804.2 831.5H1808.8M179.1 879.6H184.0M1804.2 879.6H1808.8M179.1 927.6H184.0M1804.2 927.6H1808.8M179.1 975.7H184.0M1804.2 975.7H1808.8M179.1 1023.8H184.0M1804.2 1023.8H1808.8M179.1 1071.9H184.0M1804.2 1071.9H1808.8M179.1 1120.0H184.0M1804.2 1120.0H1808.8M179.1 1168.0H184.0M1804.2 1168.0H1808.8M1804.2 1212H1808.8" stroke="#000" stroke-width="2.1" fill="none"/>
<rect x="1097.8" y="71.1" width="627.1" height="140.2" fill="#fff" stroke="#000" stroke-width="2"/>
<path d="M1112 107H1243.6" stroke="#000" stroke-width="4"/>
<path d="M1112 177.3H1243.6" stroke="#f00" stroke-width="4"/>
<text x="1258.6" y="124.4" font-family='"Liberation Sans", sans-serif' font-size="54.5" font-weight="normal" text-anchor="start" textLength="458.6" lengthAdjust="spacingAndGlyphs">without surfactant</text>
<text x="1258.6" y="196.7" font-family='"Liberation Sans", sans-serif' font-size="54.5" font-weight="normal" text-anchor="start" textLength="377.6" lengthAdjust="spacingAndGlyphs">with surfactant</text>
<text x="286.9" y="1278.8" font-family='"Liberation Sans", sans-serif' font-size="56" font-weight="bold" text-anchor="middle">6</text>
<text x="503.1" y="1278.8" font-family='"Liberation Sans", sans-serif' font-size="56" font-weight="bold" text-anchor="middle">8</text>
<text x="720.5" y="1278.8" font-family='"Liberation Sans", sans-serif' font-size="56" font-weight="bold" text-anchor="middle">10</text>
<text x="936.9" y="1278.8" font-family='"Liberation Sans", sans-serif' font-size="56" font-weight="bold" text-anchor="middle">12</text>
<text x="1153.0" y="1278.8" font-family='"Liberation Sans", sans-serif' font-size="56" font-weight="bold" text-anchor="middle">14</text>
<text x="1370.8" y="1278.8" font-family='"Liberation Sans", sans-serif' font-size="56" font-weight="bold" text-anchor="middle">16</text>
<text x="1586.6" y="1278.8" font-family='"Liberation Sans", sans-serif' font-size="56" font-weight="bold" text-anchor="middle">18</text>
<text x="1803.7" y="1278.8" font-family='"Liberation Sans", sans-serif' font-size="56" font-weight="bold" text-anchor="middle">20</text>
<text x="842" y="1405.5" font-family='"Liberation Sans", sans-serif' font-size="73.5" font-weight="bold" text-anchor="start">2</text>
<text x="903.5" y="1405.2" font-family='"Liberation Serif", serif' font-size="76" font-weight="normal" text-anchor="start" textLength="44" lengthAdjust="spacingAndGlyphs">θ</text>
<text x="964" y="1405.5" font-family='"Liberation Sans", sans-serif' font-size="73.5" font-weight="bold" text-anchor="start" textLength="175" lengthAdjust="spacingAndGlyphs">(deg)</text>
<text transform="translate(67.5 893.7) rotate(-90)" font-family='"Liberation Sans", sans-serif' font-size="73.5" font-weight="bold" stroke="#000" stroke-width="1.1" textLength="521.4" lengthAdjust="spacingAndGlyphs">Intensity (a. u.)</text>
<text font-family='"Liberation Sans", sans-serif' font-size="55.7" font-weight="bold"><tspan x="337.6" y="64.7" font-size="49.6" font-weight="normal" stroke="#000" stroke-width="0.8" textLength="19.2" lengthAdjust="spacingAndGlyphs">(</tspan><tspan x="356.9" y="67.2" textLength="91.2" lengthAdjust="spacingAndGlyphs">010</tspan><tspan x="447.8" y="64.7" font-size="49.6" font-weight="normal" stroke="#000" stroke-width="0.8" textLength="19.2" lengthAdjust="spacingAndGlyphs">)</tspan></text>
<text font-family='"Liberation Sans", sans-serif' font-size="55.7" font-weight="bold"><tspan x="256.6" y="340.6" font-size="49.6" font-weight="normal" stroke="#000" stroke-width="0.8" textLength="19.2" lengthAdjust="spacingAndGlyphs">(</tspan><tspan x="275.9" y="343.1" textLength="91.2" lengthAdjust="spacingAndGlyphs">001</tspan><tspan x="366.8" y="340.6" font-size="49.6" font-weight="normal" stroke="#000" stroke-width="0.8" textLength="19.2" lengthAdjust="spacingAndGlyphs">)</tspan></text>
<text font-family='"Liberation Sans", sans-serif' font-size="55.7" font-weight="bold"><tspan x="429.3" y="493.3" font-size="49.6" font-weight="normal" stroke="#000" stroke-width="0.8" textLength="19.2" lengthAdjust="spacingAndGlyphs">(</tspan><tspan x="448.6" y="495.8" textLength="91.2" lengthAdjust="spacingAndGlyphs">011</tspan><tspan x="539.5" y="493.3" font-size="49.6" font-weight="normal" stroke="#000" stroke-width="0.8" textLength="19.2" lengthAdjust="spacingAndGlyphs">)</tspan></text>
<text font-family='"Liberation Sans", sans-serif' font-size="55.7" font-weight="bold"><tspan x="802.0" y="811.1" font-size="49.6" font-weight="normal" stroke="#000" stroke-width="0.8" textLength="19.2" lengthAdjust="spacingAndGlyphs">(</tspan><tspan x="821.3" y="813.6" textLength="91.2" lengthAdjust="spacingAndGlyphs">011</tspan><tspan x="912.2" y="811.1" font-size="49.6" font-weight="normal" stroke="#000" stroke-width="0.8" textLength="19.2" lengthAdjust="spacingAndGlyphs">)</tspan></text>
<text font-family='"Liberation Sans", sans-serif' font-size="55.7" font-weight="bold"><tspan x="1526.8" y="559.6" font-size="49.6" font-weight="normal" stroke="#000" stroke-width="0.8" textLength="19.2" lengthAdjust="spacingAndGlyphs">(</tspan><tspan x="1546.1" y="562.1" textLength="91.2" lengthAdjust="spacingAndGlyphs">021</tspan><tspan x="1637.0" y="559.6" font-size="49.6" font-weight="normal" stroke="#000" stroke-width="0.8" textLength="19.2" lengthAdjust="spacingAndGlyphs">)</tspan></text>
<text font-family='"Liberation Sans", sans-serif' font-size="55.7" font-weight="bold"><tspan x="303.1" y="1054.7" font-size="49.6" font-weight="normal" stroke="#000" stroke-width="0.8" textLength="19.2" lengthAdjust="spacingAndGlyphs">(</tspan><tspan x="322.4" y="1057.2" textLength="91.2" lengthAdjust="spacingAndGlyphs">001</tspan><tspan x="413.3" y="1054.7" font-size="49.6" font-weight="normal" stroke="#000" stroke-width="0.8" textLength="19.2" lengthAdjust="spacingAndGlyphs">)</tspan></text>
<text font-family='"Liberation Sans", sans-serif' font-size="55.7" font-weight="bold"><tspan x="833.1" y="1071.5" font-size="49.6" font-weight="normal" stroke="#000" stroke-width="0.8" textLength="19.2" lengthAdjust="spacingAndGlyphs">(</tspan><tspan x="852.4" y="1074.0" textLength="91.2" lengthAdjust="spacingAndGlyphs">011</tspan><tspan x="943.3" y="1071.5" font-size="49.6" font-weight="normal" stroke="#000" stroke-width="0.8" textLength="19.2" lengthAdjust="spacingAndGlyphs">)</tspan></text>
<text font-family='"Liberation Sans", sans-serif' font-size="55.7" font-weight="bold"><tspan x="1513.7" y="1078.6" font-size="49.6" font-weight="normal" stroke="#000" stroke-width="0.8" textLength="19.2" lengthAdjust="spacingAndGlyphs">(</tspan><tspan x="1533.0" y="1081.1" textLength="91.2" lengthAdjust="spacingAndGlyphs">021</tspan><tspan x="1623.9" y="1078.6" font-size="49.6" font-weight="normal" stroke="#000" stroke-width="0.8" textLength="19.2" lengthAdjust="spacingAndGlyphs">)</tspan></text>
<path d="M510.3 447.6H541" stroke="#000" stroke-width="2.4"/>
</svg>
</body>
</html>
